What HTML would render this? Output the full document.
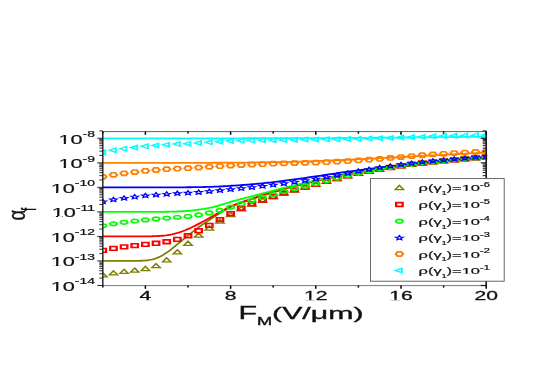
<!DOCTYPE html>
<html><head><meta charset="utf-8"><title>chart</title>
<style>html,body{margin:0;padding:0;background:#fff;}body{width:545px;height:382px;overflow:hidden;font-family:"Liberation Sans",sans-serif;}svg{filter:blur(0.45px);}</style>
</head><body>
<svg width="545" height="382" viewBox="0 0 545 382" style="display:block;font-family:'Liberation Sans',sans-serif">
<rect width="545" height="382" fill="#fff"/>
<defs><clipPath id="cp"><rect x="102.8" y="128.6" width="384.29999999999995" height="157.00000000000003"/></clipPath></defs>
<g clip-path="url(#cp)">
<polyline points="102.80,260.95 104.72,260.95 106.63,260.95 108.55,260.95 110.47,260.95 112.39,260.95 114.30,260.95 116.22,260.95 118.14,260.95 120.05,260.95 121.97,260.95 123.89,260.95 125.80,260.95 127.72,260.94 129.64,260.94 131.56,260.93 133.47,260.91 135.39,260.89 137.31,260.86 139.22,260.81 141.14,260.73 143.06,260.63 144.97,260.49 146.89,260.30 148.81,260.05 150.72,259.72 152.64,259.30 154.56,258.78 156.48,258.14 158.39,257.38 160.31,256.50 162.23,255.49 164.14,254.35 166.06,253.11 167.98,251.77 169.89,250.35 171.81,248.86 173.73,247.32 175.65,245.74 177.56,244.14 179.48,242.54 181.40,240.93 183.31,239.33 185.23,237.74 187.15,236.17 189.06,234.62 190.98,233.10 192.90,231.61 194.82,230.14 196.73,228.70 198.65,227.30 200.57,225.92 202.48,224.58 204.40,223.26 206.32,221.98 208.24,220.72 210.15,219.45 212.07,218.17 213.99,216.91 215.90,215.68 217.82,214.47 219.74,213.29 221.65,212.13 223.57,211.00 225.49,209.89 227.40,208.80 229.32,207.74 231.24,206.77 233.16,205.96 235.07,205.18 236.99,204.41 238.91,203.67 240.82,202.94 242.74,202.23 244.66,201.54 246.57,200.87 248.49,200.21 250.41,199.56 252.33,198.92 254.24,198.24 256.16,197.58 258.08,196.93 259.99,196.29 261.91,195.67 263.83,195.06 265.75,194.46 267.66,193.88 269.58,193.30 271.50,192.74 273.41,192.18 275.33,191.59 277.25,191.02 279.16,190.45 281.08,189.89 283.00,189.34 284.92,188.80 286.83,188.27 288.75,187.75 290.67,187.24 292.58,186.74 294.50,186.25 296.42,185.76 298.33,185.28 300.25,184.81 302.17,184.33 304.08,183.84 306.00,183.36 307.92,182.89 309.84,182.43 311.75,181.97 313.67,181.52 315.59,181.07 317.50,180.63 319.42,180.20 321.34,179.77 323.25,179.35 325.17,178.94 327.09,178.53 329.01,178.13 330.92,177.73 332.84,177.34 334.76,176.95 336.67,176.57 338.59,176.19 340.51,175.82 342.43,175.45 344.34,175.09 346.26,174.74 348.18,174.38 350.09,174.04 352.01,173.71 353.93,173.37 355.84,173.05 357.76,172.72 359.68,172.40 361.59,172.09 363.51,171.78 365.43,171.47 367.35,171.16 369.26,170.86 371.18,170.57 373.10,170.27 375.01,169.98 376.93,169.70 378.85,169.41 380.76,169.13 382.68,168.86 384.60,168.59 386.52,168.33 388.43,168.06 390.35,167.80 392.27,167.54 394.18,167.29 396.10,167.04 398.02,166.79 399.94,166.54 401.85,166.30 403.77,166.06 405.69,165.82 407.60,165.58 409.52,165.35 411.44,165.12 413.35,164.89 415.27,164.67 417.19,164.44 419.11,164.22 421.02,164.00 422.94,163.79 424.86,163.57 426.77,163.36 428.69,163.15 430.61,162.94 432.52,162.74 434.44,162.53 436.36,162.33 438.27,162.13 440.19,161.94 442.11,161.74 444.03,161.55 445.94,161.36 447.86,161.17 449.78,160.99 451.69,160.81 453.61,160.62 455.53,160.45 457.44,160.27 459.36,160.09 461.28,159.92 463.20,159.75 465.11,159.58 467.03,159.41 468.95,159.24 470.86,159.07 472.78,158.91 474.70,158.75 476.62,158.59 478.53,158.43 480.45,158.27 482.37,158.11 484.28,157.95 486.20,157.80" fill="none" stroke="#808000" stroke-width="1.8"/>
<polyline points="102.80,236.42 104.72,236.42 106.63,236.42 108.55,236.42 110.47,236.42 112.39,236.42 114.30,236.42 116.22,236.42 118.14,236.42 120.05,236.42 121.97,236.42 123.89,236.42 125.80,236.42 127.72,236.42 129.64,236.42 131.56,236.42 133.47,236.42 135.39,236.41 137.31,236.41 139.22,236.41 141.14,236.40 143.06,236.39 144.97,236.37 146.89,236.35 148.81,236.33 150.72,236.29 152.64,236.24 154.56,236.18 156.48,236.10 158.39,236.00 160.31,235.88 162.23,235.73 164.14,235.54 166.06,235.32 167.98,235.05 169.89,234.74 171.81,234.38 173.73,233.96 175.65,233.49 177.56,232.96 179.48,232.37 181.40,231.72 183.31,231.01 185.23,230.26 187.15,229.45 189.06,228.60 190.98,227.71 192.90,226.78 194.82,225.83 196.73,224.85 198.65,223.85 200.57,222.84 202.48,221.81 204.40,220.78 206.32,219.75 208.24,218.72 210.15,217.66 212.07,216.57 213.99,215.47 215.90,214.39 217.82,213.31 219.74,212.25 221.65,211.19 223.57,210.15 225.49,209.12 227.40,208.11 229.32,207.11 231.24,206.19 233.16,205.43 235.07,204.68 236.99,203.95 238.91,203.23 240.82,202.54 242.74,201.85 244.66,201.18 246.57,200.53 248.49,199.89 250.41,199.27 252.33,198.64 254.24,197.98 256.16,197.33 258.08,196.70 259.99,196.07 261.91,195.46 263.83,194.86 265.75,194.28 267.66,193.70 269.58,193.14 271.50,192.58 273.41,192.03 275.33,191.45 277.25,190.88 279.16,190.32 281.08,189.77 283.00,189.23 284.92,188.69 286.83,188.17 288.75,187.65 290.67,187.15 292.58,186.65 294.50,186.16 296.42,185.68 298.33,185.20 300.25,184.74 302.17,184.26 304.08,183.77 306.00,183.30 307.92,182.83 309.84,182.37 311.75,181.91 313.67,181.46 315.59,181.02 317.50,180.58 319.42,180.15 321.34,179.73 323.25,179.31 325.17,178.90 327.09,178.49 329.01,178.09 330.92,177.69 332.84,177.30 334.76,176.92 336.67,176.54 338.59,176.16 340.51,175.79 342.43,175.42 344.34,175.06 346.26,174.71 348.18,174.36 350.09,174.02 352.01,173.68 353.93,173.35 355.84,173.02 357.76,172.70 359.68,172.38 361.59,172.06 363.51,171.75 365.43,171.45 367.35,171.14 369.26,170.84 371.18,170.55 373.10,170.25 375.01,169.96 376.93,169.68 378.85,169.39 380.76,169.12 382.68,168.84 384.60,168.58 386.52,168.31 388.43,168.05 390.35,167.79 392.27,167.53 394.18,167.27 396.10,167.02 398.02,166.77 399.94,166.53 401.85,166.28 403.77,166.04 405.69,165.81 407.60,165.57 409.52,165.34 411.44,165.11 413.35,164.88 415.27,164.65 417.19,164.43 419.11,164.21 421.02,163.99 422.94,163.78 424.86,163.56 426.77,163.35 428.69,163.14 430.61,162.93 432.52,162.73 434.44,162.52 436.36,162.32 438.27,162.12 440.19,161.93 442.11,161.73 444.03,161.54 445.94,161.35 447.86,161.16 449.78,160.98 451.69,160.80 453.61,160.62 455.53,160.44 457.44,160.26 459.36,160.09 461.28,159.91 463.20,159.74 465.11,159.57 467.03,159.40 468.95,159.23 470.86,159.07 472.78,158.90 474.70,158.74 476.62,158.58 478.53,158.42 480.45,158.26 482.37,158.10 484.28,157.95 486.20,157.79" fill="none" stroke="#ff0000" stroke-width="1.8"/>
<polyline points="102.80,211.89 104.72,211.89 106.63,211.89 108.55,211.89 110.47,211.89 112.39,211.89 114.30,211.89 116.22,211.89 118.14,211.89 120.05,211.89 121.97,211.89 123.89,211.89 125.80,211.89 127.72,211.89 129.64,211.89 131.56,211.89 133.47,211.89 135.39,211.89 137.31,211.89 139.22,211.89 141.14,211.89 143.06,211.89 144.97,211.89 146.89,211.88 148.81,211.88 150.72,211.88 152.64,211.87 154.56,211.87 156.48,211.86 158.39,211.85 160.31,211.83 162.23,211.82 164.14,211.80 166.06,211.77 167.98,211.75 169.89,211.71 171.81,211.67 173.73,211.62 175.65,211.56 177.56,211.49 179.48,211.41 181.40,211.31 183.31,211.21 185.23,211.09 187.15,210.95 189.06,210.79 190.98,210.62 192.90,210.43 194.82,210.21 196.73,209.98 198.65,209.72 200.57,209.45 202.48,209.14 204.40,208.82 206.32,208.47 208.24,208.11 210.15,207.70 212.07,207.26 213.99,206.79 215.90,206.29 217.82,205.78 219.74,205.24 221.65,204.68 223.57,204.10 225.49,203.51 227.40,202.90 229.32,202.27 231.24,201.68 233.16,201.17 235.07,200.67 236.99,200.16 238.91,199.65 240.82,199.15 242.74,198.65 244.66,198.15 246.57,197.66 248.49,197.16 250.41,196.68 252.33,196.18 254.24,195.66 256.16,195.13 258.08,194.61 259.99,194.10 261.91,193.59 263.83,193.08 265.75,192.58 267.66,192.09 269.58,191.60 271.50,191.12 273.41,190.64 275.33,190.13 277.25,189.62 279.16,189.12 281.08,188.63 283.00,188.14 284.92,187.66 286.83,187.18 288.75,186.71 290.67,186.25 292.58,185.79 294.50,185.34 296.42,184.89 298.33,184.45 300.25,184.01 302.17,183.56 304.08,183.11 306.00,182.66 307.92,182.22 309.84,181.78 311.75,181.35 313.67,180.92 315.59,180.50 317.50,180.09 319.42,179.68 321.34,179.27 323.25,178.87 325.17,178.47 327.09,178.08 329.01,177.69 330.92,177.31 332.84,176.94 334.76,176.56 336.67,176.19 338.59,175.83 340.51,175.47 342.43,175.12 344.34,174.76 346.26,174.42 348.18,174.08 350.09,173.75 352.01,173.42 353.93,173.09 355.84,172.78 357.76,172.46 359.68,172.15 361.59,171.84 363.51,171.53 365.43,171.23 367.35,170.94 369.26,170.64 371.18,170.35 373.10,170.06 375.01,169.78 376.93,169.50 378.85,169.22 380.76,168.95 382.68,168.68 384.60,168.41 386.52,168.15 388.43,167.89 390.35,167.63 392.27,167.38 394.18,167.13 396.10,166.88 398.02,166.64 399.94,166.39 401.85,166.15 403.77,165.92 405.69,165.68 407.60,165.45 409.52,165.22 411.44,164.99 413.35,164.76 415.27,164.54 417.19,164.32 419.11,164.10 421.02,163.89 422.94,163.67 424.86,163.46 426.77,163.25 428.69,163.04 430.61,162.84 432.52,162.63 434.44,162.43 436.36,162.23 438.27,162.03 440.19,161.84 442.11,161.64 444.03,161.45 445.94,161.27 447.86,161.08 449.78,160.90 451.69,160.72 453.61,160.54 455.53,160.36 457.44,160.19 459.36,160.01 461.28,159.84 463.20,159.67 465.11,159.50 467.03,159.33 468.95,159.16 470.86,159.00 472.78,158.84 474.70,158.68 476.62,158.51 478.53,158.36 480.45,158.20 482.37,158.04 484.28,157.89 486.20,157.74" fill="none" stroke="#00ff00" stroke-width="1.8"/>
<polyline points="102.80,187.36 104.72,187.36 106.63,187.36 108.55,187.36 110.47,187.36 112.39,187.36 114.30,187.36 116.22,187.36 118.14,187.36 120.05,187.36 121.97,187.36 123.89,187.36 125.80,187.36 127.72,187.36 129.64,187.36 131.56,187.36 133.47,187.36 135.39,187.36 137.31,187.36 139.22,187.36 141.14,187.36 143.06,187.36 144.97,187.36 146.89,187.36 148.81,187.36 150.72,187.36 152.64,187.36 154.56,187.36 156.48,187.36 158.39,187.36 160.31,187.35 162.23,187.35 164.14,187.35 166.06,187.35 167.98,187.35 169.89,187.34 171.81,187.34 173.73,187.33 175.65,187.33 177.56,187.32 179.48,187.31 181.40,187.30 183.31,187.29 185.23,187.28 187.15,187.26 189.06,187.25 190.98,187.23 192.90,187.20 194.82,187.18 196.73,187.15 198.65,187.12 200.57,187.09 202.48,187.05 204.40,187.01 206.32,186.96 208.24,186.91 210.15,186.86 212.07,186.79 213.99,186.72 215.90,186.65 217.82,186.56 219.74,186.47 221.65,186.38 223.57,186.27 225.49,186.16 227.40,186.03 229.32,185.90 231.24,185.77 233.16,185.66 235.07,185.54 236.99,185.41 238.91,185.28 240.82,185.15 242.74,185.01 244.66,184.87 246.57,184.73 248.49,184.58 250.41,184.43 252.33,184.27 254.24,184.09 256.16,183.91 258.08,183.73 259.99,183.54 261.91,183.35 263.83,183.15 265.75,182.95 267.66,182.75 269.58,182.54 271.50,182.34 273.41,182.12 275.33,181.89 277.25,181.65 279.16,181.41 281.08,181.17 283.00,180.93 284.92,180.68 286.83,180.43 288.75,180.18 290.67,179.92 292.58,179.67 294.50,179.41 296.42,179.15 298.33,178.89 300.25,178.63 302.17,178.36 304.08,178.08 306.00,177.80 307.92,177.51 309.84,177.23 311.75,176.95 313.67,176.66 315.59,176.38 317.50,176.09 319.42,175.81 321.34,175.53 323.25,175.24 325.17,174.96 327.09,174.68 329.01,174.39 330.92,174.11 332.84,173.83 334.76,173.55 336.67,173.27 338.59,172.99 340.51,172.72 342.43,172.44 344.34,172.17 346.26,171.90 348.18,171.63 350.09,171.36 352.01,171.10 353.93,170.84 355.84,170.58 357.76,170.32 359.68,170.07 361.59,169.81 363.51,169.56 365.43,169.31 367.35,169.06 369.26,168.81 371.18,168.57 373.10,168.32 375.01,168.08 376.93,167.84 378.85,167.60 380.76,167.37 382.68,167.13 384.60,166.90 386.52,166.68 388.43,166.45 390.35,166.23 392.27,166.00 394.18,165.78 396.10,165.56 398.02,165.35 399.94,165.13 401.85,164.92 403.77,164.71 405.69,164.50 407.60,164.29 409.52,164.08 411.44,163.88 413.35,163.67 415.27,163.47 417.19,163.27 419.11,163.07 421.02,162.88 422.94,162.68 424.86,162.49 426.77,162.30 428.69,162.11 430.61,161.92 432.52,161.73 434.44,161.55 436.36,161.36 438.27,161.18 440.19,161.00 442.11,160.82 444.03,160.64 445.94,160.47 447.86,160.30 449.78,160.13 451.69,159.96 453.61,159.79 455.53,159.63 457.44,159.46 459.36,159.30 461.28,159.14 463.20,158.98 465.11,158.82 467.03,158.66 468.95,158.51 470.86,158.35 472.78,158.20 474.70,158.04 476.62,157.89 478.53,157.74 480.45,157.60 482.37,157.45 484.28,157.30 486.20,157.16" fill="none" stroke="#0000ff" stroke-width="1.8"/>
<polyline points="102.80,162.83 104.72,162.83 106.63,162.83 108.55,162.83 110.47,162.83 112.39,162.83 114.30,162.83 116.22,162.83 118.14,162.83 120.05,162.83 121.97,162.83 123.89,162.83 125.80,162.83 127.72,162.83 129.64,162.83 131.56,162.83 133.47,162.83 135.39,162.83 137.31,162.83 139.22,162.83 141.14,162.83 143.06,162.83 144.97,162.83 146.89,162.83 148.81,162.83 150.72,162.83 152.64,162.83 154.56,162.83 156.48,162.83 158.39,162.83 160.31,162.83 162.23,162.83 164.14,162.83 166.06,162.83 167.98,162.83 169.89,162.83 171.81,162.83 173.73,162.83 175.65,162.83 177.56,162.83 179.48,162.83 181.40,162.82 183.31,162.82 185.23,162.82 187.15,162.82 189.06,162.82 190.98,162.82 192.90,162.81 194.82,162.81 196.73,162.81 198.65,162.81 200.57,162.80 202.48,162.80 204.40,162.79 206.32,162.79 208.24,162.78 210.15,162.78 212.07,162.77 213.99,162.76 215.90,162.76 217.82,162.75 219.74,162.74 221.65,162.73 223.57,162.72 225.49,162.70 227.40,162.69 229.32,162.67 231.24,162.66 233.16,162.65 235.07,162.63 236.99,162.62 238.91,162.60 240.82,162.59 242.74,162.57 244.66,162.55 246.57,162.54 248.49,162.52 250.41,162.50 252.33,162.48 254.24,162.45 256.16,162.43 258.08,162.41 259.99,162.38 261.91,162.35 263.83,162.33 265.75,162.30 267.66,162.27 269.58,162.24 271.50,162.21 273.41,162.17 275.33,162.14 277.25,162.10 279.16,162.06 281.08,162.02 283.00,161.98 284.92,161.94 286.83,161.90 288.75,161.85 290.67,161.80 292.58,161.76 294.50,161.71 296.42,161.66 298.33,161.61 300.25,161.56 302.17,161.50 304.08,161.44 306.00,161.38 307.92,161.32 309.84,161.26 311.75,161.20 313.67,161.13 315.59,161.06 317.50,161.00 319.42,160.93 321.34,160.85 323.25,160.78 325.17,160.71 327.09,160.63 329.01,160.56 330.92,160.48 332.84,160.40 334.76,160.32 336.67,160.24 338.59,160.16 340.51,160.07 342.43,159.99 344.34,159.90 346.26,159.82 348.18,159.73 350.09,159.64 352.01,159.55 353.93,159.46 355.84,159.37 357.76,159.28 359.68,159.19 361.59,159.10 363.51,159.01 365.43,158.91 367.35,158.82 369.26,158.72 371.18,158.63 373.10,158.53 375.01,158.43 376.93,158.34 378.85,158.24 380.76,158.14 382.68,158.04 384.60,157.94 386.52,157.84 388.43,157.74 390.35,157.64 392.27,157.54 394.18,157.44 396.10,157.34 398.02,157.24 399.94,157.14 401.85,157.04 403.77,156.94 405.69,156.84 407.60,156.73 409.52,156.63 411.44,156.53 413.35,156.43 415.27,156.32 417.19,156.22 419.11,156.12 421.02,156.02 422.94,155.91 424.86,155.81 426.77,155.71 428.69,155.61 430.61,155.50 432.52,155.40 434.44,155.30 436.36,155.19 438.27,155.09 440.19,154.99 442.11,154.89 444.03,154.79 445.94,154.69 447.86,154.59 449.78,154.49 451.69,154.39 453.61,154.29 455.53,154.19 457.44,154.09 459.36,153.99 461.28,153.89 463.20,153.79 465.11,153.70 467.03,153.60 468.95,153.50 470.86,153.40 472.78,153.31 474.70,153.21 476.62,153.11 478.53,153.02 480.45,152.92 482.37,152.83 484.28,152.73 486.20,152.64" fill="none" stroke="#ff8000" stroke-width="1.8"/>
<polyline points="102.80,138.30 104.72,138.30 106.63,138.30 108.55,138.30 110.47,138.30 112.39,138.30 114.30,138.30 116.22,138.30 118.14,138.30 120.05,138.30 121.97,138.30 123.89,138.30 125.80,138.30 127.72,138.30 129.64,138.30 131.56,138.30 133.47,138.30 135.39,138.30 137.31,138.30 139.22,138.30 141.14,138.30 143.06,138.30 144.97,138.30 146.89,138.30 148.81,138.30 150.72,138.30 152.64,138.30 154.56,138.30 156.48,138.30 158.39,138.30 160.31,138.30 162.23,138.30 164.14,138.30 166.06,138.30 167.98,138.30 169.89,138.30 171.81,138.30 173.73,138.30 175.65,138.30 177.56,138.30 179.48,138.30 181.40,138.30 183.31,138.30 185.23,138.30 187.15,138.30 189.06,138.30 190.98,138.30 192.90,138.30 194.82,138.30 196.73,138.30 198.65,138.30 200.57,138.30 202.48,138.30 204.40,138.30 206.32,138.30 208.24,138.30 210.15,138.29 212.07,138.29 213.99,138.29 215.90,138.29 217.82,138.29 219.74,138.29 221.65,138.29 223.57,138.29 225.49,138.29 227.40,138.29 229.32,138.28 231.24,138.28 233.16,138.28 235.07,138.28 236.99,138.28 238.91,138.28 240.82,138.28 242.74,138.27 244.66,138.27 246.57,138.27 248.49,138.27 250.41,138.27 252.33,138.26 254.24,138.26 256.16,138.26 258.08,138.26 259.99,138.25 261.91,138.25 263.83,138.25 265.75,138.25 267.66,138.24 269.58,138.24 271.50,138.24 273.41,138.23 275.33,138.23 277.25,138.22 279.16,138.22 281.08,138.22 283.00,138.21 284.92,138.21 286.83,138.20 288.75,138.20 290.67,138.19 292.58,138.19 294.50,138.18 296.42,138.18 298.33,138.17 300.25,138.17 302.17,138.16 304.08,138.15 306.00,138.15 307.92,138.14 309.84,138.13 311.75,138.12 313.67,138.12 315.59,138.11 317.50,138.10 319.42,138.09 321.34,138.09 323.25,138.08 325.17,138.07 327.09,138.06 329.01,138.05 330.92,138.04 332.84,138.03 334.76,138.02 336.67,138.01 338.59,138.00 340.51,137.99 342.43,137.98 344.34,137.97 346.26,137.96 348.18,137.95 350.09,137.93 352.01,137.92 353.93,137.91 355.84,137.90 357.76,137.89 359.68,137.87 361.59,137.86 363.51,137.85 365.43,137.84 367.35,137.82 369.26,137.81 371.18,137.80 373.10,137.78 375.01,137.77 376.93,137.76 378.85,137.74 380.76,137.73 382.68,137.71 384.60,137.70 386.52,137.68 388.43,137.67 390.35,137.65 392.27,137.64 394.18,137.62 396.10,137.61 398.02,137.59 399.94,137.57 401.85,137.56 403.77,137.54 405.69,137.52 407.60,137.51 409.52,137.49 411.44,137.47 413.35,137.46 415.27,137.44 417.19,137.42 419.11,137.40 421.02,137.39 422.94,137.37 424.86,137.35 426.77,137.33 428.69,137.31 430.61,137.29 432.52,137.28 434.44,137.26 436.36,137.24 438.27,137.22 440.19,137.20 442.11,137.18 444.03,137.16 445.94,137.14 447.86,137.12 449.78,137.10 451.69,137.08 453.61,137.06 455.53,137.04 457.44,137.02 459.36,137.00 461.28,136.98 463.20,136.96 465.11,136.94 467.03,136.92 468.95,136.90 470.86,136.88 472.78,136.86 474.70,136.84 476.62,136.82 478.53,136.80 480.45,136.78 482.37,136.76 484.28,136.74 486.20,136.72" fill="none" stroke="#00ffff" stroke-width="1.8"/>
<g transform="translate(102.80,274.90) scale(1.4,1)"><polygon points="-2.95,2.04 2.95,2.04 0.00,-2.06" fill="none" stroke="#808000" stroke-width="1.25" stroke-linejoin="miter"/></g>
<g transform="translate(113.45,272.92) scale(1.4,1)"><polygon points="-2.95,2.04 2.95,2.04 0.00,-2.06" fill="none" stroke="#808000" stroke-width="1.25" stroke-linejoin="miter"/></g>
<g transform="translate(124.10,271.40) scale(1.4,1)"><polygon points="-2.95,2.04 2.95,2.04 0.00,-2.06" fill="none" stroke="#808000" stroke-width="1.25" stroke-linejoin="miter"/></g>
<g transform="translate(134.75,270.13) scale(1.4,1)"><polygon points="-2.95,2.04 2.95,2.04 0.00,-2.06" fill="none" stroke="#808000" stroke-width="1.25" stroke-linejoin="miter"/></g>
<g transform="translate(145.40,268.50) scale(1.4,1)"><polygon points="-2.95,2.04 2.95,2.04 0.00,-2.06" fill="none" stroke="#808000" stroke-width="1.25" stroke-linejoin="miter"/></g>
<g transform="translate(156.05,265.65) scale(1.4,1)"><polygon points="-2.95,2.04 2.95,2.04 0.00,-2.06" fill="none" stroke="#808000" stroke-width="1.25" stroke-linejoin="miter"/></g>
<g transform="translate(166.70,259.91) scale(1.4,1)"><polygon points="-2.95,2.04 2.95,2.04 0.00,-2.06" fill="none" stroke="#808000" stroke-width="1.25" stroke-linejoin="miter"/></g>
<g transform="translate(177.35,251.86) scale(1.4,1)"><polygon points="-2.95,2.04 2.95,2.04 0.00,-2.06" fill="none" stroke="#808000" stroke-width="1.25" stroke-linejoin="miter"/></g>
<g transform="translate(188.00,243.25) scale(1.4,1)"><polygon points="-2.95,2.04 2.95,2.04 0.00,-2.06" fill="none" stroke="#808000" stroke-width="1.25" stroke-linejoin="miter"/></g>
<g transform="translate(198.65,235.18) scale(1.4,1)"><polygon points="-2.95,2.04 2.95,2.04 0.00,-2.06" fill="none" stroke="#808000" stroke-width="1.25" stroke-linejoin="miter"/></g>
<g transform="translate(209.30,227.97) scale(1.4,1)"><polygon points="-2.95,2.04 2.95,2.04 0.00,-2.06" fill="none" stroke="#808000" stroke-width="1.25" stroke-linejoin="miter"/></g>
<g transform="translate(219.95,221.18) scale(1.4,1)"><polygon points="-2.95,2.04 2.95,2.04 0.00,-2.06" fill="none" stroke="#808000" stroke-width="1.25" stroke-linejoin="miter"/></g>
<g transform="translate(230.60,214.55) scale(1.4,1)"><polygon points="-2.95,2.04 2.95,2.04 0.00,-2.06" fill="none" stroke="#808000" stroke-width="1.25" stroke-linejoin="miter"/></g>
<g transform="translate(241.25,208.81) scale(1.4,1)"><polygon points="-2.95,2.04 2.95,2.04 0.00,-2.06" fill="none" stroke="#808000" stroke-width="1.25" stroke-linejoin="miter"/></g>
<g transform="translate(251.90,204.19) scale(1.4,1)"><polygon points="-2.95,2.04 2.95,2.04 0.00,-2.06" fill="none" stroke="#808000" stroke-width="1.25" stroke-linejoin="miter"/></g>
<g transform="translate(262.55,200.22) scale(1.4,1)"><polygon points="-2.95,2.04 2.95,2.04 0.00,-2.06" fill="none" stroke="#808000" stroke-width="1.25" stroke-linejoin="miter"/></g>
<g transform="translate(273.20,196.64) scale(1.4,1)"><polygon points="-2.95,2.04 2.95,2.04 0.00,-2.06" fill="none" stroke="#808000" stroke-width="1.25" stroke-linejoin="miter"/></g>
<g transform="translate(283.85,193.17) scale(1.4,1)"><polygon points="-2.95,2.04 2.95,2.04 0.00,-2.06" fill="none" stroke="#808000" stroke-width="1.25" stroke-linejoin="miter"/></g>
<g transform="translate(294.50,190.01) scale(1.4,1)"><polygon points="-2.95,2.04 2.95,2.04 0.00,-2.06" fill="none" stroke="#808000" stroke-width="1.25" stroke-linejoin="miter"/></g>
<g transform="translate(305.15,187.10) scale(1.4,1)"><polygon points="-2.95,2.04 2.95,2.04 0.00,-2.06" fill="none" stroke="#808000" stroke-width="1.25" stroke-linejoin="miter"/></g>
<g transform="translate(315.80,184.42) scale(1.4,1)"><polygon points="-2.95,2.04 2.95,2.04 0.00,-2.06" fill="none" stroke="#808000" stroke-width="1.25" stroke-linejoin="miter"/></g>
<g transform="translate(326.45,181.35) scale(1.4,1)"><polygon points="-2.95,2.04 2.95,2.04 0.00,-2.06" fill="none" stroke="#808000" stroke-width="1.25" stroke-linejoin="miter"/></g>
<g transform="translate(337.10,178.51) scale(1.4,1)"><polygon points="-2.95,2.04 2.95,2.04 0.00,-2.06" fill="none" stroke="#808000" stroke-width="1.25" stroke-linejoin="miter"/></g>
<g transform="translate(347.75,175.87) scale(1.4,1)"><polygon points="-2.95,2.04 2.95,2.04 0.00,-2.06" fill="none" stroke="#808000" stroke-width="1.25" stroke-linejoin="miter"/></g>
<g transform="translate(358.40,173.41) scale(1.4,1)"><polygon points="-2.95,2.04 2.95,2.04 0.00,-2.06" fill="none" stroke="#808000" stroke-width="1.25" stroke-linejoin="miter"/></g>
<g transform="translate(369.05,171.24) scale(1.4,1)"><polygon points="-2.95,2.04 2.95,2.04 0.00,-2.06" fill="none" stroke="#808000" stroke-width="1.25" stroke-linejoin="miter"/></g>
<g transform="translate(379.70,169.19) scale(1.4,1)"><polygon points="-2.95,2.04 2.95,2.04 0.00,-2.06" fill="none" stroke="#808000" stroke-width="1.25" stroke-linejoin="miter"/></g>
<g transform="translate(390.35,167.44) scale(1.4,1)"><polygon points="-2.95,2.04 2.95,2.04 0.00,-2.06" fill="none" stroke="#808000" stroke-width="1.25" stroke-linejoin="miter"/></g>
<g transform="translate(401.00,165.79) scale(1.4,1)"><polygon points="-2.95,2.04 2.95,2.04 0.00,-2.06" fill="none" stroke="#808000" stroke-width="1.25" stroke-linejoin="miter"/></g>
<g transform="translate(411.65,164.34) scale(1.4,1)"><polygon points="-2.95,2.04 2.95,2.04 0.00,-2.06" fill="none" stroke="#808000" stroke-width="1.25" stroke-linejoin="miter"/></g>
<g transform="translate(422.30,162.96) scale(1.4,1)"><polygon points="-2.95,2.04 2.95,2.04 0.00,-2.06" fill="none" stroke="#808000" stroke-width="1.25" stroke-linejoin="miter"/></g>
<g transform="translate(432.95,161.81) scale(1.4,1)"><polygon points="-2.95,2.04 2.95,2.04 0.00,-2.06" fill="none" stroke="#808000" stroke-width="1.25" stroke-linejoin="miter"/></g>
<g transform="translate(443.60,160.73) scale(1.4,1)"><polygon points="-2.95,2.04 2.95,2.04 0.00,-2.06" fill="none" stroke="#808000" stroke-width="1.25" stroke-linejoin="miter"/></g>
<g transform="translate(454.25,159.71) scale(1.4,1)"><polygon points="-2.95,2.04 2.95,2.04 0.00,-2.06" fill="none" stroke="#808000" stroke-width="1.25" stroke-linejoin="miter"/></g>
<g transform="translate(464.90,158.74) scale(1.4,1)"><polygon points="-2.95,2.04 2.95,2.04 0.00,-2.06" fill="none" stroke="#808000" stroke-width="1.25" stroke-linejoin="miter"/></g>
<g transform="translate(475.55,157.82) scale(1.4,1)"><polygon points="-2.95,2.04 2.95,2.04 0.00,-2.06" fill="none" stroke="#808000" stroke-width="1.25" stroke-linejoin="miter"/></g>
<g transform="translate(486.20,156.94) scale(1.4,1)"><polygon points="-2.95,2.04 2.95,2.04 0.00,-2.06" fill="none" stroke="#808000" stroke-width="1.25" stroke-linejoin="miter"/></g>
<g transform="translate(102.80,250.37) scale(1.4,1)"><polygon points="-2.32,-1.88 2.32,-1.88 2.32,1.88 -2.32,1.88" fill="none" stroke="#ff0000" stroke-width="1.65" stroke-linejoin="miter"/></g>
<g transform="translate(113.45,248.39) scale(1.4,1)"><polygon points="-2.32,-1.88 2.32,-1.88 2.32,1.88 -2.32,1.88" fill="none" stroke="#ff0000" stroke-width="1.65" stroke-linejoin="miter"/></g>
<g transform="translate(124.10,246.87) scale(1.4,1)"><polygon points="-2.32,-1.88 2.32,-1.88 2.32,1.88 -2.32,1.88" fill="none" stroke="#ff0000" stroke-width="1.65" stroke-linejoin="miter"/></g>
<g transform="translate(134.75,245.66) scale(1.4,1)"><polygon points="-2.32,-1.88 2.32,-1.88 2.32,1.88 -2.32,1.88" fill="none" stroke="#ff0000" stroke-width="1.65" stroke-linejoin="miter"/></g>
<g transform="translate(145.40,244.41) scale(1.4,1)"><polygon points="-2.32,-1.88 2.32,-1.88 2.32,1.88 -2.32,1.88" fill="none" stroke="#ff0000" stroke-width="1.65" stroke-linejoin="miter"/></g>
<g transform="translate(156.05,243.32) scale(1.4,1)"><polygon points="-2.32,-1.88 2.32,-1.88 2.32,1.88 -2.32,1.88" fill="none" stroke="#ff0000" stroke-width="1.65" stroke-linejoin="miter"/></g>
<g transform="translate(166.70,241.77) scale(1.4,1)"><polygon points="-2.32,-1.88 2.32,-1.88 2.32,1.88 -2.32,1.88" fill="none" stroke="#ff0000" stroke-width="1.65" stroke-linejoin="miter"/></g>
<g transform="translate(177.35,239.39) scale(1.4,1)"><polygon points="-2.32,-1.88 2.32,-1.88 2.32,1.88 -2.32,1.88" fill="none" stroke="#ff0000" stroke-width="1.65" stroke-linejoin="miter"/></g>
<g transform="translate(188.00,235.69) scale(1.4,1)"><polygon points="-2.32,-1.88 2.32,-1.88 2.32,1.88 -2.32,1.88" fill="none" stroke="#ff0000" stroke-width="1.65" stroke-linejoin="miter"/></g>
<g transform="translate(198.65,230.77) scale(1.4,1)"><polygon points="-2.32,-1.88 2.32,-1.88 2.32,1.88 -2.32,1.88" fill="none" stroke="#ff0000" stroke-width="1.65" stroke-linejoin="miter"/></g>
<g transform="translate(209.30,225.34) scale(1.4,1)"><polygon points="-2.32,-1.88 2.32,-1.88 2.32,1.88 -2.32,1.88" fill="none" stroke="#ff0000" stroke-width="1.65" stroke-linejoin="miter"/></g>
<g transform="translate(219.95,219.63) scale(1.4,1)"><polygon points="-2.32,-1.88 2.32,-1.88 2.32,1.88 -2.32,1.88" fill="none" stroke="#ff0000" stroke-width="1.65" stroke-linejoin="miter"/></g>
<g transform="translate(230.60,213.64) scale(1.4,1)"><polygon points="-2.32,-1.88 2.32,-1.88 2.32,1.88 -2.32,1.88" fill="none" stroke="#ff0000" stroke-width="1.65" stroke-linejoin="miter"/></g>
<g transform="translate(241.25,208.25) scale(1.4,1)"><polygon points="-2.32,-1.88 2.32,-1.88 2.32,1.88 -2.32,1.88" fill="none" stroke="#ff0000" stroke-width="1.65" stroke-linejoin="miter"/></g>
<g transform="translate(251.90,203.81) scale(1.4,1)"><polygon points="-2.32,-1.88 2.32,-1.88 2.32,1.88 -2.32,1.88" fill="none" stroke="#ff0000" stroke-width="1.65" stroke-linejoin="miter"/></g>
<g transform="translate(262.55,199.95) scale(1.4,1)"><polygon points="-2.32,-1.88 2.32,-1.88 2.32,1.88 -2.32,1.88" fill="none" stroke="#ff0000" stroke-width="1.65" stroke-linejoin="miter"/></g>
<g transform="translate(273.20,196.44) scale(1.4,1)"><polygon points="-2.32,-1.88 2.32,-1.88 2.32,1.88 -2.32,1.88" fill="none" stroke="#ff0000" stroke-width="1.65" stroke-linejoin="miter"/></g>
<g transform="translate(283.85,193.03) scale(1.4,1)"><polygon points="-2.32,-1.88 2.32,-1.88 2.32,1.88 -2.32,1.88" fill="none" stroke="#ff0000" stroke-width="1.65" stroke-linejoin="miter"/></g>
<g transform="translate(294.50,189.89) scale(1.4,1)"><polygon points="-2.32,-1.88 2.32,-1.88 2.32,1.88 -2.32,1.88" fill="none" stroke="#ff0000" stroke-width="1.65" stroke-linejoin="miter"/></g>
<g transform="translate(305.15,187.01) scale(1.4,1)"><polygon points="-2.32,-1.88 2.32,-1.88 2.32,1.88 -2.32,1.88" fill="none" stroke="#ff0000" stroke-width="1.65" stroke-linejoin="miter"/></g>
<g transform="translate(315.80,184.35) scale(1.4,1)"><polygon points="-2.32,-1.88 2.32,-1.88 2.32,1.88 -2.32,1.88" fill="none" stroke="#ff0000" stroke-width="1.65" stroke-linejoin="miter"/></g>
<g transform="translate(326.45,181.30) scale(1.4,1)"><polygon points="-2.32,-1.88 2.32,-1.88 2.32,1.88 -2.32,1.88" fill="none" stroke="#ff0000" stroke-width="1.65" stroke-linejoin="miter"/></g>
<g transform="translate(337.10,178.47) scale(1.4,1)"><polygon points="-2.32,-1.88 2.32,-1.88 2.32,1.88 -2.32,1.88" fill="none" stroke="#ff0000" stroke-width="1.65" stroke-linejoin="miter"/></g>
<g transform="translate(347.75,175.84) scale(1.4,1)"><polygon points="-2.32,-1.88 2.32,-1.88 2.32,1.88 -2.32,1.88" fill="none" stroke="#ff0000" stroke-width="1.65" stroke-linejoin="miter"/></g>
<g transform="translate(358.40,173.38) scale(1.4,1)"><polygon points="-2.32,-1.88 2.32,-1.88 2.32,1.88 -2.32,1.88" fill="none" stroke="#ff0000" stroke-width="1.65" stroke-linejoin="miter"/></g>
<g transform="translate(369.05,171.21) scale(1.4,1)"><polygon points="-2.32,-1.88 2.32,-1.88 2.32,1.88 -2.32,1.88" fill="none" stroke="#ff0000" stroke-width="1.65" stroke-linejoin="miter"/></g>
<g transform="translate(379.70,169.18) scale(1.4,1)"><polygon points="-2.32,-1.88 2.32,-1.88 2.32,1.88 -2.32,1.88" fill="none" stroke="#ff0000" stroke-width="1.65" stroke-linejoin="miter"/></g>
<g transform="translate(390.35,167.43) scale(1.4,1)"><polygon points="-2.32,-1.88 2.32,-1.88 2.32,1.88 -2.32,1.88" fill="none" stroke="#ff0000" stroke-width="1.65" stroke-linejoin="miter"/></g>
<g transform="translate(401.00,165.78) scale(1.4,1)"><polygon points="-2.32,-1.88 2.32,-1.88 2.32,1.88 -2.32,1.88" fill="none" stroke="#ff0000" stroke-width="1.65" stroke-linejoin="miter"/></g>
<g transform="translate(411.65,164.32) scale(1.4,1)"><polygon points="-2.32,-1.88 2.32,-1.88 2.32,1.88 -2.32,1.88" fill="none" stroke="#ff0000" stroke-width="1.65" stroke-linejoin="miter"/></g>
<g transform="translate(422.30,162.95) scale(1.4,1)"><polygon points="-2.32,-1.88 2.32,-1.88 2.32,1.88 -2.32,1.88" fill="none" stroke="#ff0000" stroke-width="1.65" stroke-linejoin="miter"/></g>
<g transform="translate(432.95,161.80) scale(1.4,1)"><polygon points="-2.32,-1.88 2.32,-1.88 2.32,1.88 -2.32,1.88" fill="none" stroke="#ff0000" stroke-width="1.65" stroke-linejoin="miter"/></g>
<g transform="translate(443.60,160.72) scale(1.4,1)"><polygon points="-2.32,-1.88 2.32,-1.88 2.32,1.88 -2.32,1.88" fill="none" stroke="#ff0000" stroke-width="1.65" stroke-linejoin="miter"/></g>
<g transform="translate(454.25,159.70) scale(1.4,1)"><polygon points="-2.32,-1.88 2.32,-1.88 2.32,1.88 -2.32,1.88" fill="none" stroke="#ff0000" stroke-width="1.65" stroke-linejoin="miter"/></g>
<g transform="translate(464.90,158.73) scale(1.4,1)"><polygon points="-2.32,-1.88 2.32,-1.88 2.32,1.88 -2.32,1.88" fill="none" stroke="#ff0000" stroke-width="1.65" stroke-linejoin="miter"/></g>
<g transform="translate(475.55,157.81) scale(1.4,1)"><polygon points="-2.32,-1.88 2.32,-1.88 2.32,1.88 -2.32,1.88" fill="none" stroke="#ff0000" stroke-width="1.65" stroke-linejoin="miter"/></g>
<g transform="translate(486.20,156.94) scale(1.4,1)"><polygon points="-2.32,-1.88 2.32,-1.88 2.32,1.88 -2.32,1.88" fill="none" stroke="#ff0000" stroke-width="1.65" stroke-linejoin="miter"/></g>
<g transform="translate(102.80,225.84) scale(1.4,1)"><ellipse cx="0" cy="0" rx="2.50" ry="1.88" fill="none" stroke="#00ff00" stroke-width="1.6"/></g>
<g transform="translate(113.45,223.86) scale(1.4,1)"><ellipse cx="0" cy="0" rx="2.50" ry="1.88" fill="none" stroke="#00ff00" stroke-width="1.6"/></g>
<g transform="translate(124.10,222.34) scale(1.4,1)"><ellipse cx="0" cy="0" rx="2.50" ry="1.88" fill="none" stroke="#00ff00" stroke-width="1.6"/></g>
<g transform="translate(134.75,221.13) scale(1.4,1)"><ellipse cx="0" cy="0" rx="2.50" ry="1.88" fill="none" stroke="#00ff00" stroke-width="1.6"/></g>
<g transform="translate(145.40,219.93) scale(1.4,1)"><ellipse cx="0" cy="0" rx="2.50" ry="1.88" fill="none" stroke="#00ff00" stroke-width="1.6"/></g>
<g transform="translate(156.05,219.04) scale(1.4,1)"><ellipse cx="0" cy="0" rx="2.50" ry="1.88" fill="none" stroke="#00ff00" stroke-width="1.6"/></g>
<g transform="translate(166.70,218.15) scale(1.4,1)"><ellipse cx="0" cy="0" rx="2.50" ry="1.88" fill="none" stroke="#00ff00" stroke-width="1.6"/></g>
<g transform="translate(177.35,217.37) scale(1.4,1)"><ellipse cx="0" cy="0" rx="2.50" ry="1.88" fill="none" stroke="#00ff00" stroke-width="1.6"/></g>
<g transform="translate(188.00,216.45) scale(1.4,1)"><ellipse cx="0" cy="0" rx="2.50" ry="1.88" fill="none" stroke="#00ff00" stroke-width="1.6"/></g>
<g transform="translate(198.65,215.01) scale(1.4,1)"><ellipse cx="0" cy="0" rx="2.50" ry="1.88" fill="none" stroke="#00ff00" stroke-width="1.6"/></g>
<g transform="translate(209.30,213.00) scale(1.4,1)"><ellipse cx="0" cy="0" rx="2.50" ry="1.88" fill="none" stroke="#00ff00" stroke-width="1.6"/></g>
<g transform="translate(219.95,210.50) scale(1.4,1)"><ellipse cx="0" cy="0" rx="2.50" ry="1.88" fill="none" stroke="#00ff00" stroke-width="1.6"/></g>
<g transform="translate(230.60,207.28) scale(1.4,1)"><ellipse cx="0" cy="0" rx="2.50" ry="1.88" fill="none" stroke="#00ff00" stroke-width="1.6"/></g>
<g transform="translate(241.25,203.85) scale(1.4,1)"><ellipse cx="0" cy="0" rx="2.50" ry="1.88" fill="none" stroke="#00ff00" stroke-width="1.6"/></g>
<g transform="translate(251.90,200.62) scale(1.4,1)"><ellipse cx="0" cy="0" rx="2.50" ry="1.88" fill="none" stroke="#00ff00" stroke-width="1.6"/></g>
<g transform="translate(262.55,197.57) scale(1.4,1)"><ellipse cx="0" cy="0" rx="2.50" ry="1.88" fill="none" stroke="#00ff00" stroke-width="1.6"/></g>
<g transform="translate(273.20,194.63) scale(1.4,1)"><ellipse cx="0" cy="0" rx="2.50" ry="1.88" fill="none" stroke="#00ff00" stroke-width="1.6"/></g>
<g transform="translate(283.85,191.65) scale(1.4,1)"><ellipse cx="0" cy="0" rx="2.50" ry="1.88" fill="none" stroke="#00ff00" stroke-width="1.6"/></g>
<g transform="translate(294.50,188.83) scale(1.4,1)"><ellipse cx="0" cy="0" rx="2.50" ry="1.88" fill="none" stroke="#00ff00" stroke-width="1.6"/></g>
<g transform="translate(305.15,186.18) scale(1.4,1)"><ellipse cx="0" cy="0" rx="2.50" ry="1.88" fill="none" stroke="#00ff00" stroke-width="1.6"/></g>
<g transform="translate(315.80,183.69) scale(1.4,1)"><ellipse cx="0" cy="0" rx="2.50" ry="1.88" fill="none" stroke="#00ff00" stroke-width="1.6"/></g>
<g transform="translate(326.45,180.79) scale(1.4,1)"><ellipse cx="0" cy="0" rx="2.50" ry="1.88" fill="none" stroke="#00ff00" stroke-width="1.6"/></g>
<g transform="translate(337.10,178.07) scale(1.4,1)"><ellipse cx="0" cy="0" rx="2.50" ry="1.88" fill="none" stroke="#00ff00" stroke-width="1.6"/></g>
<g transform="translate(347.75,175.52) scale(1.4,1)"><ellipse cx="0" cy="0" rx="2.50" ry="1.88" fill="none" stroke="#00ff00" stroke-width="1.6"/></g>
<g transform="translate(358.40,173.13) scale(1.4,1)"><ellipse cx="0" cy="0" rx="2.50" ry="1.88" fill="none" stroke="#00ff00" stroke-width="1.6"/></g>
<g transform="translate(369.05,171.01) scale(1.4,1)"><ellipse cx="0" cy="0" rx="2.50" ry="1.88" fill="none" stroke="#00ff00" stroke-width="1.6"/></g>
<g transform="translate(379.70,169.00) scale(1.4,1)"><ellipse cx="0" cy="0" rx="2.50" ry="1.88" fill="none" stroke="#00ff00" stroke-width="1.6"/></g>
<g transform="translate(390.35,167.28) scale(1.4,1)"><ellipse cx="0" cy="0" rx="2.50" ry="1.88" fill="none" stroke="#00ff00" stroke-width="1.6"/></g>
<g transform="translate(401.00,165.64) scale(1.4,1)"><ellipse cx="0" cy="0" rx="2.50" ry="1.88" fill="none" stroke="#00ff00" stroke-width="1.6"/></g>
<g transform="translate(411.65,164.21) scale(1.4,1)"><ellipse cx="0" cy="0" rx="2.50" ry="1.88" fill="none" stroke="#00ff00" stroke-width="1.6"/></g>
<g transform="translate(422.30,162.84) scale(1.4,1)"><ellipse cx="0" cy="0" rx="2.50" ry="1.88" fill="none" stroke="#00ff00" stroke-width="1.6"/></g>
<g transform="translate(432.95,161.71) scale(1.4,1)"><ellipse cx="0" cy="0" rx="2.50" ry="1.88" fill="none" stroke="#00ff00" stroke-width="1.6"/></g>
<g transform="translate(443.60,160.63) scale(1.4,1)"><ellipse cx="0" cy="0" rx="2.50" ry="1.88" fill="none" stroke="#00ff00" stroke-width="1.6"/></g>
<g transform="translate(454.25,159.62) scale(1.4,1)"><ellipse cx="0" cy="0" rx="2.50" ry="1.88" fill="none" stroke="#00ff00" stroke-width="1.6"/></g>
<g transform="translate(464.90,158.65) scale(1.4,1)"><ellipse cx="0" cy="0" rx="2.50" ry="1.88" fill="none" stroke="#00ff00" stroke-width="1.6"/></g>
<g transform="translate(475.55,157.74) scale(1.4,1)"><ellipse cx="0" cy="0" rx="2.50" ry="1.88" fill="none" stroke="#00ff00" stroke-width="1.6"/></g>
<g transform="translate(486.20,156.87) scale(1.4,1)"><ellipse cx="0" cy="0" rx="2.50" ry="1.88" fill="none" stroke="#00ff00" stroke-width="1.6"/></g>
<g transform="translate(102.80,201.31) scale(1.4,1)"><polygon points="0.00,-1.90 0.76,-0.52 2.57,-0.35 1.23,0.68 1.59,2.17 0.00,1.43 -1.59,2.17 -1.23,0.68 -2.57,-0.35 -0.76,-0.52" fill="none" stroke="#0000ff" stroke-width="1.15" stroke-linejoin="miter" stroke-miterlimit="3"/></g>
<g transform="translate(113.45,199.33) scale(1.4,1)"><polygon points="0.00,-1.90 0.76,-0.52 2.57,-0.35 1.23,0.68 1.59,2.17 0.00,1.43 -1.59,2.17 -1.23,0.68 -2.57,-0.35 -0.76,-0.52" fill="none" stroke="#0000ff" stroke-width="1.15" stroke-linejoin="miter" stroke-miterlimit="3"/></g>
<g transform="translate(124.10,197.81) scale(1.4,1)"><polygon points="0.00,-1.90 0.76,-0.52 2.57,-0.35 1.23,0.68 1.59,2.17 0.00,1.43 -1.59,2.17 -1.23,0.68 -2.57,-0.35 -0.76,-0.52" fill="none" stroke="#0000ff" stroke-width="1.15" stroke-linejoin="miter" stroke-miterlimit="3"/></g>
<g transform="translate(134.75,196.60) scale(1.4,1)"><polygon points="0.00,-1.90 0.76,-0.52 2.57,-0.35 1.23,0.68 1.59,2.17 0.00,1.43 -1.59,2.17 -1.23,0.68 -2.57,-0.35 -0.76,-0.52" fill="none" stroke="#0000ff" stroke-width="1.15" stroke-linejoin="miter" stroke-miterlimit="3"/></g>
<g transform="translate(145.40,195.40) scale(1.4,1)"><polygon points="0.00,-1.90 0.76,-0.52 2.57,-0.35 1.23,0.68 1.59,2.17 0.00,1.43 -1.59,2.17 -1.23,0.68 -2.57,-0.35 -0.76,-0.52" fill="none" stroke="#0000ff" stroke-width="1.15" stroke-linejoin="miter" stroke-miterlimit="3"/></g>
<g transform="translate(156.05,194.53) scale(1.4,1)"><polygon points="0.00,-1.90 0.76,-0.52 2.57,-0.35 1.23,0.68 1.59,2.17 0.00,1.43 -1.59,2.17 -1.23,0.68 -2.57,-0.35 -0.76,-0.52" fill="none" stroke="#0000ff" stroke-width="1.15" stroke-linejoin="miter" stroke-miterlimit="3"/></g>
<g transform="translate(166.70,193.72) scale(1.4,1)"><polygon points="0.00,-1.90 0.76,-0.52 2.57,-0.35 1.23,0.68 1.59,2.17 0.00,1.43 -1.59,2.17 -1.23,0.68 -2.57,-0.35 -0.76,-0.52" fill="none" stroke="#0000ff" stroke-width="1.15" stroke-linejoin="miter" stroke-miterlimit="3"/></g>
<g transform="translate(177.35,193.13) scale(1.4,1)"><polygon points="0.00,-1.90 0.76,-0.52 2.57,-0.35 1.23,0.68 1.59,2.17 0.00,1.43 -1.59,2.17 -1.23,0.68 -2.57,-0.35 -0.76,-0.52" fill="none" stroke="#0000ff" stroke-width="1.15" stroke-linejoin="miter" stroke-miterlimit="3"/></g>
<g transform="translate(188.00,192.63) scale(1.4,1)"><polygon points="0.00,-1.90 0.76,-0.52 2.57,-0.35 1.23,0.68 1.59,2.17 0.00,1.43 -1.59,2.17 -1.23,0.68 -2.57,-0.35 -0.76,-0.52" fill="none" stroke="#0000ff" stroke-width="1.15" stroke-linejoin="miter" stroke-miterlimit="3"/></g>
<g transform="translate(198.65,191.94) scale(1.4,1)"><polygon points="0.00,-1.90 0.76,-0.52 2.57,-0.35 1.23,0.68 1.59,2.17 0.00,1.43 -1.59,2.17 -1.23,0.68 -2.57,-0.35 -0.76,-0.52" fill="none" stroke="#0000ff" stroke-width="1.15" stroke-linejoin="miter" stroke-miterlimit="3"/></g>
<g transform="translate(209.30,191.03) scale(1.4,1)"><polygon points="0.00,-1.90 0.76,-0.52 2.57,-0.35 1.23,0.68 1.59,2.17 0.00,1.43 -1.59,2.17 -1.23,0.68 -2.57,-0.35 -0.76,-0.52" fill="none" stroke="#0000ff" stroke-width="1.15" stroke-linejoin="miter" stroke-miterlimit="3"/></g>
<g transform="translate(219.95,190.15) scale(1.4,1)"><polygon points="0.00,-1.90 0.76,-0.52 2.57,-0.35 1.23,0.68 1.59,2.17 0.00,1.43 -1.59,2.17 -1.23,0.68 -2.57,-0.35 -0.76,-0.52" fill="none" stroke="#0000ff" stroke-width="1.15" stroke-linejoin="miter" stroke-miterlimit="3"/></g>
<g transform="translate(230.60,189.13) scale(1.4,1)"><polygon points="0.00,-1.90 0.76,-0.52 2.57,-0.35 1.23,0.68 1.59,2.17 0.00,1.43 -1.59,2.17 -1.23,0.68 -2.57,-0.35 -0.76,-0.52" fill="none" stroke="#0000ff" stroke-width="1.15" stroke-linejoin="miter" stroke-miterlimit="3"/></g>
<g transform="translate(241.25,188.10) scale(1.4,1)"><polygon points="0.00,-1.90 0.76,-0.52 2.57,-0.35 1.23,0.68 1.59,2.17 0.00,1.43 -1.59,2.17 -1.23,0.68 -2.57,-0.35 -0.76,-0.52" fill="none" stroke="#0000ff" stroke-width="1.15" stroke-linejoin="miter" stroke-miterlimit="3"/></g>
<g transform="translate(251.90,186.99) scale(1.4,1)"><polygon points="0.00,-1.90 0.76,-0.52 2.57,-0.35 1.23,0.68 1.59,2.17 0.00,1.43 -1.59,2.17 -1.23,0.68 -2.57,-0.35 -0.76,-0.52" fill="none" stroke="#0000ff" stroke-width="1.15" stroke-linejoin="miter" stroke-miterlimit="3"/></g>
<g transform="translate(262.55,185.86) scale(1.4,1)"><polygon points="0.00,-1.90 0.76,-0.52 2.57,-0.35 1.23,0.68 1.59,2.17 0.00,1.43 -1.59,2.17 -1.23,0.68 -2.57,-0.35 -0.76,-0.52" fill="none" stroke="#0000ff" stroke-width="1.15" stroke-linejoin="miter" stroke-miterlimit="3"/></g>
<g transform="translate(273.20,184.61) scale(1.4,1)"><polygon points="0.00,-1.90 0.76,-0.52 2.57,-0.35 1.23,0.68 1.59,2.17 0.00,1.43 -1.59,2.17 -1.23,0.68 -2.57,-0.35 -0.76,-0.52" fill="none" stroke="#0000ff" stroke-width="1.15" stroke-linejoin="miter" stroke-miterlimit="3"/></g>
<g transform="translate(283.85,183.20) scale(1.4,1)"><polygon points="0.00,-1.90 0.76,-0.52 2.57,-0.35 1.23,0.68 1.59,2.17 0.00,1.43 -1.59,2.17 -1.23,0.68 -2.57,-0.35 -0.76,-0.52" fill="none" stroke="#0000ff" stroke-width="1.15" stroke-linejoin="miter" stroke-miterlimit="3"/></g>
<g transform="translate(294.50,181.71) scale(1.4,1)"><polygon points="0.00,-1.90 0.76,-0.52 2.57,-0.35 1.23,0.68 1.59,2.17 0.00,1.43 -1.59,2.17 -1.23,0.68 -2.57,-0.35 -0.76,-0.52" fill="none" stroke="#0000ff" stroke-width="1.15" stroke-linejoin="miter" stroke-miterlimit="3"/></g>
<g transform="translate(305.15,180.20) scale(1.4,1)"><polygon points="0.00,-1.90 0.76,-0.52 2.57,-0.35 1.23,0.68 1.59,2.17 0.00,1.43 -1.59,2.17 -1.23,0.68 -2.57,-0.35 -0.76,-0.52" fill="none" stroke="#0000ff" stroke-width="1.15" stroke-linejoin="miter" stroke-miterlimit="3"/></g>
<g transform="translate(315.80,178.64) scale(1.4,1)"><polygon points="0.00,-1.90 0.76,-0.52 2.57,-0.35 1.23,0.68 1.59,2.17 0.00,1.43 -1.59,2.17 -1.23,0.68 -2.57,-0.35 -0.76,-0.52" fill="none" stroke="#0000ff" stroke-width="1.15" stroke-linejoin="miter" stroke-miterlimit="3"/></g>
<g transform="translate(326.45,176.72) scale(1.4,1)"><polygon points="0.00,-1.90 0.76,-0.52 2.57,-0.35 1.23,0.68 1.59,2.17 0.00,1.43 -1.59,2.17 -1.23,0.68 -2.57,-0.35 -0.76,-0.52" fill="none" stroke="#0000ff" stroke-width="1.15" stroke-linejoin="miter" stroke-miterlimit="3"/></g>
<g transform="translate(337.10,174.77) scale(1.4,1)"><polygon points="0.00,-1.90 0.76,-0.52 2.57,-0.35 1.23,0.68 1.59,2.17 0.00,1.43 -1.59,2.17 -1.23,0.68 -2.57,-0.35 -0.76,-0.52" fill="none" stroke="#0000ff" stroke-width="1.15" stroke-linejoin="miter" stroke-miterlimit="3"/></g>
<g transform="translate(347.75,172.83) scale(1.4,1)"><polygon points="0.00,-1.90 0.76,-0.52 2.57,-0.35 1.23,0.68 1.59,2.17 0.00,1.43 -1.59,2.17 -1.23,0.68 -2.57,-0.35 -0.76,-0.52" fill="none" stroke="#0000ff" stroke-width="1.15" stroke-linejoin="miter" stroke-miterlimit="3"/></g>
<g transform="translate(358.40,170.91) scale(1.4,1)"><polygon points="0.00,-1.90 0.76,-0.52 2.57,-0.35 1.23,0.68 1.59,2.17 0.00,1.43 -1.59,2.17 -1.23,0.68 -2.57,-0.35 -0.76,-0.52" fill="none" stroke="#0000ff" stroke-width="1.15" stroke-linejoin="miter" stroke-miterlimit="3"/></g>
<g transform="translate(369.05,169.12) scale(1.4,1)"><polygon points="0.00,-1.90 0.76,-0.52 2.57,-0.35 1.23,0.68 1.59,2.17 0.00,1.43 -1.59,2.17 -1.23,0.68 -2.57,-0.35 -0.76,-0.52" fill="none" stroke="#0000ff" stroke-width="1.15" stroke-linejoin="miter" stroke-miterlimit="3"/></g>
<g transform="translate(379.70,167.39) scale(1.4,1)"><polygon points="0.00,-1.90 0.76,-0.52 2.57,-0.35 1.23,0.68 1.59,2.17 0.00,1.43 -1.59,2.17 -1.23,0.68 -2.57,-0.35 -0.76,-0.52" fill="none" stroke="#0000ff" stroke-width="1.15" stroke-linejoin="miter" stroke-miterlimit="3"/></g>
<g transform="translate(390.35,165.87) scale(1.4,1)"><polygon points="0.00,-1.90 0.76,-0.52 2.57,-0.35 1.23,0.68 1.59,2.17 0.00,1.43 -1.59,2.17 -1.23,0.68 -2.57,-0.35 -0.76,-0.52" fill="none" stroke="#0000ff" stroke-width="1.15" stroke-linejoin="miter" stroke-miterlimit="3"/></g>
<g transform="translate(401.00,164.41) scale(1.4,1)"><polygon points="0.00,-1.90 0.76,-0.52 2.57,-0.35 1.23,0.68 1.59,2.17 0.00,1.43 -1.59,2.17 -1.23,0.68 -2.57,-0.35 -0.76,-0.52" fill="none" stroke="#0000ff" stroke-width="1.15" stroke-linejoin="miter" stroke-miterlimit="3"/></g>
<g transform="translate(411.65,163.10) scale(1.4,1)"><polygon points="0.00,-1.90 0.76,-0.52 2.57,-0.35 1.23,0.68 1.59,2.17 0.00,1.43 -1.59,2.17 -1.23,0.68 -2.57,-0.35 -0.76,-0.52" fill="none" stroke="#0000ff" stroke-width="1.15" stroke-linejoin="miter" stroke-miterlimit="3"/></g>
<g transform="translate(422.30,161.85) scale(1.4,1)"><polygon points="0.00,-1.90 0.76,-0.52 2.57,-0.35 1.23,0.68 1.59,2.17 0.00,1.43 -1.59,2.17 -1.23,0.68 -2.57,-0.35 -0.76,-0.52" fill="none" stroke="#0000ff" stroke-width="1.15" stroke-linejoin="miter" stroke-miterlimit="3"/></g>
<g transform="translate(432.95,160.80) scale(1.4,1)"><polygon points="0.00,-1.90 0.76,-0.52 2.57,-0.35 1.23,0.68 1.59,2.17 0.00,1.43 -1.59,2.17 -1.23,0.68 -2.57,-0.35 -0.76,-0.52" fill="none" stroke="#0000ff" stroke-width="1.15" stroke-linejoin="miter" stroke-miterlimit="3"/></g>
<g transform="translate(443.60,159.79) scale(1.4,1)"><polygon points="0.00,-1.90 0.76,-0.52 2.57,-0.35 1.23,0.68 1.59,2.17 0.00,1.43 -1.59,2.17 -1.23,0.68 -2.57,-0.35 -0.76,-0.52" fill="none" stroke="#0000ff" stroke-width="1.15" stroke-linejoin="miter" stroke-miterlimit="3"/></g>
<g transform="translate(454.25,158.84) scale(1.4,1)"><polygon points="0.00,-1.90 0.76,-0.52 2.57,-0.35 1.23,0.68 1.59,2.17 0.00,1.43 -1.59,2.17 -1.23,0.68 -2.57,-0.35 -0.76,-0.52" fill="none" stroke="#0000ff" stroke-width="1.15" stroke-linejoin="miter" stroke-miterlimit="3"/></g>
<g transform="translate(464.90,157.93) scale(1.4,1)"><polygon points="0.00,-1.90 0.76,-0.52 2.57,-0.35 1.23,0.68 1.59,2.17 0.00,1.43 -1.59,2.17 -1.23,0.68 -2.57,-0.35 -0.76,-0.52" fill="none" stroke="#0000ff" stroke-width="1.15" stroke-linejoin="miter" stroke-miterlimit="3"/></g>
<g transform="translate(475.55,157.06) scale(1.4,1)"><polygon points="0.00,-1.90 0.76,-0.52 2.57,-0.35 1.23,0.68 1.59,2.17 0.00,1.43 -1.59,2.17 -1.23,0.68 -2.57,-0.35 -0.76,-0.52" fill="none" stroke="#0000ff" stroke-width="1.15" stroke-linejoin="miter" stroke-miterlimit="3"/></g>
<g transform="translate(486.20,156.23) scale(1.4,1)"><polygon points="0.00,-1.90 0.76,-0.52 2.57,-0.35 1.23,0.68 1.59,2.17 0.00,1.43 -1.59,2.17 -1.23,0.68 -2.57,-0.35 -0.76,-0.52" fill="none" stroke="#0000ff" stroke-width="1.15" stroke-linejoin="miter" stroke-miterlimit="3"/></g>
<g transform="translate(102.80,176.78) scale(1.4,1)"><polygon points="2.62,0.00 1.31,2.09 -1.31,2.09 -2.62,0.00 -1.31,-2.09 1.31,-2.09" fill="none" stroke="#ff8000" stroke-width="1.6" stroke-linejoin="miter"/></g>
<g transform="translate(113.45,174.80) scale(1.4,1)"><polygon points="2.62,0.00 1.31,2.09 -1.31,2.09 -2.62,0.00 -1.31,-2.09 1.31,-2.09" fill="none" stroke="#ff8000" stroke-width="1.6" stroke-linejoin="miter"/></g>
<g transform="translate(124.10,173.28) scale(1.4,1)"><polygon points="2.62,0.00 1.31,2.09 -1.31,2.09 -2.62,0.00 -1.31,-2.09 1.31,-2.09" fill="none" stroke="#ff8000" stroke-width="1.6" stroke-linejoin="miter"/></g>
<g transform="translate(134.75,172.07) scale(1.4,1)"><polygon points="2.62,0.00 1.31,2.09 -1.31,2.09 -2.62,0.00 -1.31,-2.09 1.31,-2.09" fill="none" stroke="#ff8000" stroke-width="1.6" stroke-linejoin="miter"/></g>
<g transform="translate(145.40,170.87) scale(1.4,1)"><polygon points="2.62,0.00 1.31,2.09 -1.31,2.09 -2.62,0.00 -1.31,-2.09 1.31,-2.09" fill="none" stroke="#ff8000" stroke-width="1.6" stroke-linejoin="miter"/></g>
<g transform="translate(156.05,170.00) scale(1.4,1)"><polygon points="2.62,0.00 1.31,2.09 -1.31,2.09 -2.62,0.00 -1.31,-2.09 1.31,-2.09" fill="none" stroke="#ff8000" stroke-width="1.6" stroke-linejoin="miter"/></g>
<g transform="translate(166.70,169.20) scale(1.4,1)"><polygon points="2.62,0.00 1.31,2.09 -1.31,2.09 -2.62,0.00 -1.31,-2.09 1.31,-2.09" fill="none" stroke="#ff8000" stroke-width="1.6" stroke-linejoin="miter"/></g>
<g transform="translate(177.35,168.63) scale(1.4,1)"><polygon points="2.62,0.00 1.31,2.09 -1.31,2.09 -2.62,0.00 -1.31,-2.09 1.31,-2.09" fill="none" stroke="#ff8000" stroke-width="1.6" stroke-linejoin="miter"/></g>
<g transform="translate(188.00,168.18) scale(1.4,1)"><polygon points="2.62,0.00 1.31,2.09 -1.31,2.09 -2.62,0.00 -1.31,-2.09 1.31,-2.09" fill="none" stroke="#ff8000" stroke-width="1.6" stroke-linejoin="miter"/></g>
<g transform="translate(198.65,167.57) scale(1.4,1)"><polygon points="2.62,0.00 1.31,2.09 -1.31,2.09 -2.62,0.00 -1.31,-2.09 1.31,-2.09" fill="none" stroke="#ff8000" stroke-width="1.6" stroke-linejoin="miter"/></g>
<g transform="translate(209.30,166.80) scale(1.4,1)"><polygon points="2.62,0.00 1.31,2.09 -1.31,2.09 -2.62,0.00 -1.31,-2.09 1.31,-2.09" fill="none" stroke="#ff8000" stroke-width="1.6" stroke-linejoin="miter"/></g>
<g transform="translate(219.95,166.14) scale(1.4,1)"><polygon points="2.62,0.00 1.31,2.09 -1.31,2.09 -2.62,0.00 -1.31,-2.09 1.31,-2.09" fill="none" stroke="#ff8000" stroke-width="1.6" stroke-linejoin="miter"/></g>
<g transform="translate(230.60,165.51) scale(1.4,1)"><polygon points="2.62,0.00 1.31,2.09 -1.31,2.09 -2.62,0.00 -1.31,-2.09 1.31,-2.09" fill="none" stroke="#ff8000" stroke-width="1.6" stroke-linejoin="miter"/></g>
<g transform="translate(241.25,165.03) scale(1.4,1)"><polygon points="2.62,0.00 1.31,2.09 -1.31,2.09 -2.62,0.00 -1.31,-2.09 1.31,-2.09" fill="none" stroke="#ff8000" stroke-width="1.6" stroke-linejoin="miter"/></g>
<g transform="translate(251.90,164.55) scale(1.4,1)"><polygon points="2.62,0.00 1.31,2.09 -1.31,2.09 -2.62,0.00 -1.31,-2.09 1.31,-2.09" fill="none" stroke="#ff8000" stroke-width="1.6" stroke-linejoin="miter"/></g>
<g transform="translate(262.55,164.15) scale(1.4,1)"><polygon points="2.62,0.00 1.31,2.09 -1.31,2.09 -2.62,0.00 -1.31,-2.09 1.31,-2.09" fill="none" stroke="#ff8000" stroke-width="1.6" stroke-linejoin="miter"/></g>
<g transform="translate(273.20,163.73) scale(1.4,1)"><polygon points="2.62,0.00 1.31,2.09 -1.31,2.09 -2.62,0.00 -1.31,-2.09 1.31,-2.09" fill="none" stroke="#ff8000" stroke-width="1.6" stroke-linejoin="miter"/></g>
<g transform="translate(283.85,163.31) scale(1.4,1)"><polygon points="2.62,0.00 1.31,2.09 -1.31,2.09 -2.62,0.00 -1.31,-2.09 1.31,-2.09" fill="none" stroke="#ff8000" stroke-width="1.6" stroke-linejoin="miter"/></g>
<g transform="translate(294.50,163.04) scale(1.4,1)"><polygon points="2.62,0.00 1.31,2.09 -1.31,2.09 -2.62,0.00 -1.31,-2.09 1.31,-2.09" fill="none" stroke="#ff8000" stroke-width="1.6" stroke-linejoin="miter"/></g>
<g transform="translate(305.15,162.81) scale(1.4,1)"><polygon points="2.62,0.00 1.31,2.09 -1.31,2.09 -2.62,0.00 -1.31,-2.09 1.31,-2.09" fill="none" stroke="#ff8000" stroke-width="1.6" stroke-linejoin="miter"/></g>
<g transform="translate(315.80,162.55) scale(1.4,1)"><polygon points="2.62,0.00 1.31,2.09 -1.31,2.09 -2.62,0.00 -1.31,-2.09 1.31,-2.09" fill="none" stroke="#ff8000" stroke-width="1.6" stroke-linejoin="miter"/></g>
<g transform="translate(326.45,162.23) scale(1.4,1)"><polygon points="2.62,0.00 1.31,2.09 -1.31,2.09 -2.62,0.00 -1.31,-2.09 1.31,-2.09" fill="none" stroke="#ff8000" stroke-width="1.6" stroke-linejoin="miter"/></g>
<g transform="translate(337.10,161.70) scale(1.4,1)"><polygon points="2.62,0.00 1.31,2.09 -1.31,2.09 -2.62,0.00 -1.31,-2.09 1.31,-2.09" fill="none" stroke="#ff8000" stroke-width="1.6" stroke-linejoin="miter"/></g>
<g transform="translate(347.75,161.10) scale(1.4,1)"><polygon points="2.62,0.00 1.31,2.09 -1.31,2.09 -2.62,0.00 -1.31,-2.09 1.31,-2.09" fill="none" stroke="#ff8000" stroke-width="1.6" stroke-linejoin="miter"/></g>
<g transform="translate(358.40,160.44) scale(1.4,1)"><polygon points="2.62,0.00 1.31,2.09 -1.31,2.09 -2.62,0.00 -1.31,-2.09 1.31,-2.09" fill="none" stroke="#ff8000" stroke-width="1.6" stroke-linejoin="miter"/></g>
<g transform="translate(369.05,159.69) scale(1.4,1)"><polygon points="2.62,0.00 1.31,2.09 -1.31,2.09 -2.62,0.00 -1.31,-2.09 1.31,-2.09" fill="none" stroke="#ff8000" stroke-width="1.6" stroke-linejoin="miter"/></g>
<g transform="translate(379.70,158.92) scale(1.4,1)"><polygon points="2.62,0.00 1.31,2.09 -1.31,2.09 -2.62,0.00 -1.31,-2.09 1.31,-2.09" fill="none" stroke="#ff8000" stroke-width="1.6" stroke-linejoin="miter"/></g>
<g transform="translate(390.35,157.98) scale(1.4,1)"><polygon points="2.62,0.00 1.31,2.09 -1.31,2.09 -2.62,0.00 -1.31,-2.09 1.31,-2.09" fill="none" stroke="#ff8000" stroke-width="1.6" stroke-linejoin="miter"/></g>
<g transform="translate(401.00,157.04) scale(1.4,1)"><polygon points="2.62,0.00 1.31,2.09 -1.31,2.09 -2.62,0.00 -1.31,-2.09 1.31,-2.09" fill="none" stroke="#ff8000" stroke-width="1.6" stroke-linejoin="miter"/></g>
<g transform="translate(411.65,156.14) scale(1.4,1)"><polygon points="2.62,0.00 1.31,2.09 -1.31,2.09 -2.62,0.00 -1.31,-2.09 1.31,-2.09" fill="none" stroke="#ff8000" stroke-width="1.6" stroke-linejoin="miter"/></g>
<g transform="translate(422.30,155.24) scale(1.4,1)"><polygon points="2.62,0.00 1.31,2.09 -1.31,2.09 -2.62,0.00 -1.31,-2.09 1.31,-2.09" fill="none" stroke="#ff8000" stroke-width="1.6" stroke-linejoin="miter"/></g>
<g transform="translate(432.95,154.42) scale(1.4,1)"><polygon points="2.62,0.00 1.31,2.09 -1.31,2.09 -2.62,0.00 -1.31,-2.09 1.31,-2.09" fill="none" stroke="#ff8000" stroke-width="1.6" stroke-linejoin="miter"/></g>
<g transform="translate(443.60,153.78) scale(1.4,1)"><polygon points="2.62,0.00 1.31,2.09 -1.31,2.09 -2.62,0.00 -1.31,-2.09 1.31,-2.09" fill="none" stroke="#ff8000" stroke-width="1.6" stroke-linejoin="miter"/></g>
<g transform="translate(454.25,153.15) scale(1.4,1)"><polygon points="2.62,0.00 1.31,2.09 -1.31,2.09 -2.62,0.00 -1.31,-2.09 1.31,-2.09" fill="none" stroke="#ff8000" stroke-width="1.6" stroke-linejoin="miter"/></g>
<g transform="translate(464.90,152.53) scale(1.4,1)"><polygon points="2.62,0.00 1.31,2.09 -1.31,2.09 -2.62,0.00 -1.31,-2.09 1.31,-2.09" fill="none" stroke="#ff8000" stroke-width="1.6" stroke-linejoin="miter"/></g>
<g transform="translate(475.55,151.93) scale(1.4,1)"><polygon points="2.62,0.00 1.31,2.09 -1.31,2.09 -2.62,0.00 -1.31,-2.09 1.31,-2.09" fill="none" stroke="#ff8000" stroke-width="1.6" stroke-linejoin="miter"/></g>
<g transform="translate(486.20,151.35) scale(1.4,1)"><polygon points="2.62,0.00 1.31,2.09 -1.31,2.09 -2.62,0.00 -1.31,-2.09 1.31,-2.09" fill="none" stroke="#ff8000" stroke-width="1.6" stroke-linejoin="miter"/></g>
<g transform="translate(102.80,152.25) scale(1.4,1)"><polygon points="1.75,-2.20 1.75,2.20 -2.85,0.00" fill="none" stroke="#00ffff" stroke-width="1.35" stroke-linejoin="miter"/></g>
<g transform="translate(113.45,150.27) scale(1.4,1)"><polygon points="1.75,-2.20 1.75,2.20 -2.85,0.00" fill="none" stroke="#00ffff" stroke-width="1.35" stroke-linejoin="miter"/></g>
<g transform="translate(124.10,148.75) scale(1.4,1)"><polygon points="1.75,-2.20 1.75,2.20 -2.85,0.00" fill="none" stroke="#00ffff" stroke-width="1.35" stroke-linejoin="miter"/></g>
<g transform="translate(134.75,147.54) scale(1.4,1)"><polygon points="1.75,-2.20 1.75,2.20 -2.85,0.00" fill="none" stroke="#00ffff" stroke-width="1.35" stroke-linejoin="miter"/></g>
<g transform="translate(145.40,146.34) scale(1.4,1)"><polygon points="1.75,-2.20 1.75,2.20 -2.85,0.00" fill="none" stroke="#00ffff" stroke-width="1.35" stroke-linejoin="miter"/></g>
<g transform="translate(156.05,145.47) scale(1.4,1)"><polygon points="1.75,-2.20 1.75,2.20 -2.85,0.00" fill="none" stroke="#00ffff" stroke-width="1.35" stroke-linejoin="miter"/></g>
<g transform="translate(166.70,144.67) scale(1.4,1)"><polygon points="1.75,-2.20 1.75,2.20 -2.85,0.00" fill="none" stroke="#00ffff" stroke-width="1.35" stroke-linejoin="miter"/></g>
<g transform="translate(177.35,144.10) scale(1.4,1)"><polygon points="1.75,-2.20 1.75,2.20 -2.85,0.00" fill="none" stroke="#00ffff" stroke-width="1.35" stroke-linejoin="miter"/></g>
<g transform="translate(188.00,143.65) scale(1.4,1)"><polygon points="1.75,-2.20 1.75,2.20 -2.85,0.00" fill="none" stroke="#00ffff" stroke-width="1.35" stroke-linejoin="miter"/></g>
<g transform="translate(198.65,143.05) scale(1.4,1)"><polygon points="1.75,-2.20 1.75,2.20 -2.85,0.00" fill="none" stroke="#00ffff" stroke-width="1.35" stroke-linejoin="miter"/></g>
<g transform="translate(209.30,142.30) scale(1.4,1)"><polygon points="1.75,-2.20 1.75,2.20 -2.85,0.00" fill="none" stroke="#00ffff" stroke-width="1.35" stroke-linejoin="miter"/></g>
<g transform="translate(219.95,141.67) scale(1.4,1)"><polygon points="1.75,-2.20 1.75,2.20 -2.85,0.00" fill="none" stroke="#00ffff" stroke-width="1.35" stroke-linejoin="miter"/></g>
<g transform="translate(230.60,141.07) scale(1.4,1)"><polygon points="1.75,-2.20 1.75,2.20 -2.85,0.00" fill="none" stroke="#00ffff" stroke-width="1.35" stroke-linejoin="miter"/></g>
<g transform="translate(241.25,140.78) scale(1.4,1)"><polygon points="1.75,-2.20 1.75,2.20 -2.85,0.00" fill="none" stroke="#00ffff" stroke-width="1.35" stroke-linejoin="miter"/></g>
<g transform="translate(251.90,140.50) scale(1.4,1)"><polygon points="1.75,-2.20 1.75,2.20 -2.85,0.00" fill="none" stroke="#00ffff" stroke-width="1.35" stroke-linejoin="miter"/></g>
<g transform="translate(262.55,140.32) scale(1.4,1)"><polygon points="1.75,-2.20 1.75,2.20 -2.85,0.00" fill="none" stroke="#00ffff" stroke-width="1.35" stroke-linejoin="miter"/></g>
<g transform="translate(273.20,140.14) scale(1.4,1)"><polygon points="1.75,-2.20 1.75,2.20 -2.85,0.00" fill="none" stroke="#00ffff" stroke-width="1.35" stroke-linejoin="miter"/></g>
<g transform="translate(283.85,139.92) scale(1.4,1)"><polygon points="1.75,-2.20 1.75,2.20 -2.85,0.00" fill="none" stroke="#00ffff" stroke-width="1.35" stroke-linejoin="miter"/></g>
<g transform="translate(294.50,139.71) scale(1.4,1)"><polygon points="1.75,-2.20 1.75,2.20 -2.85,0.00" fill="none" stroke="#00ffff" stroke-width="1.35" stroke-linejoin="miter"/></g>
<g transform="translate(305.15,139.57) scale(1.4,1)"><polygon points="1.75,-2.20 1.75,2.20 -2.85,0.00" fill="none" stroke="#00ffff" stroke-width="1.35" stroke-linejoin="miter"/></g>
<g transform="translate(315.80,139.44) scale(1.4,1)"><polygon points="1.75,-2.20 1.75,2.20 -2.85,0.00" fill="none" stroke="#00ffff" stroke-width="1.35" stroke-linejoin="miter"/></g>
<g transform="translate(326.45,139.30) scale(1.4,1)"><polygon points="1.75,-2.20 1.75,2.20 -2.85,0.00" fill="none" stroke="#00ffff" stroke-width="1.35" stroke-linejoin="miter"/></g>
<g transform="translate(337.10,139.17) scale(1.4,1)"><polygon points="1.75,-2.20 1.75,2.20 -2.85,0.00" fill="none" stroke="#00ffff" stroke-width="1.35" stroke-linejoin="miter"/></g>
<g transform="translate(347.75,139.02) scale(1.4,1)"><polygon points="1.75,-2.20 1.75,2.20 -2.85,0.00" fill="none" stroke="#00ffff" stroke-width="1.35" stroke-linejoin="miter"/></g>
<g transform="translate(358.40,138.86) scale(1.4,1)"><polygon points="1.75,-2.20 1.75,2.20 -2.85,0.00" fill="none" stroke="#00ffff" stroke-width="1.35" stroke-linejoin="miter"/></g>
<g transform="translate(369.05,138.59) scale(1.4,1)"><polygon points="1.75,-2.20 1.75,2.20 -2.85,0.00" fill="none" stroke="#00ffff" stroke-width="1.35" stroke-linejoin="miter"/></g>
<g transform="translate(379.70,138.32) scale(1.4,1)"><polygon points="1.75,-2.20 1.75,2.20 -2.85,0.00" fill="none" stroke="#00ffff" stroke-width="1.35" stroke-linejoin="miter"/></g>
<g transform="translate(390.35,137.92) scale(1.4,1)"><polygon points="1.75,-2.20 1.75,2.20 -2.85,0.00" fill="none" stroke="#00ffff" stroke-width="1.35" stroke-linejoin="miter"/></g>
<g transform="translate(401.00,137.53) scale(1.4,1)"><polygon points="1.75,-2.20 1.75,2.20 -2.85,0.00" fill="none" stroke="#00ffff" stroke-width="1.35" stroke-linejoin="miter"/></g>
<g transform="translate(411.65,137.14) scale(1.4,1)"><polygon points="1.75,-2.20 1.75,2.20 -2.85,0.00" fill="none" stroke="#00ffff" stroke-width="1.35" stroke-linejoin="miter"/></g>
<g transform="translate(422.30,136.75) scale(1.4,1)"><polygon points="1.75,-2.20 1.75,2.20 -2.85,0.00" fill="none" stroke="#00ffff" stroke-width="1.35" stroke-linejoin="miter"/></g>
<g transform="translate(432.95,136.37) scale(1.4,1)"><polygon points="1.75,-2.20 1.75,2.20 -2.85,0.00" fill="none" stroke="#00ffff" stroke-width="1.35" stroke-linejoin="miter"/></g>
<g transform="translate(443.60,135.99) scale(1.4,1)"><polygon points="1.75,-2.20 1.75,2.20 -2.85,0.00" fill="none" stroke="#00ffff" stroke-width="1.35" stroke-linejoin="miter"/></g>
<g transform="translate(454.25,135.72) scale(1.4,1)"><polygon points="1.75,-2.20 1.75,2.20 -2.85,0.00" fill="none" stroke="#00ffff" stroke-width="1.35" stroke-linejoin="miter"/></g>
<g transform="translate(464.90,135.45) scale(1.4,1)"><polygon points="1.75,-2.20 1.75,2.20 -2.85,0.00" fill="none" stroke="#00ffff" stroke-width="1.35" stroke-linejoin="miter"/></g>
<g transform="translate(475.55,135.18) scale(1.4,1)"><polygon points="1.75,-2.20 1.75,2.20 -2.85,0.00" fill="none" stroke="#00ffff" stroke-width="1.35" stroke-linejoin="miter"/></g>
<g transform="translate(486.20,134.92) scale(1.4,1)"><polygon points="1.75,-2.20 1.75,2.20 -2.85,0.00" fill="none" stroke="#00ffff" stroke-width="1.35" stroke-linejoin="miter"/></g>
</g>
<line x1="102.1" y1="131.6" x2="486.9" y2="131.6" stroke="#444" stroke-width="0.85"/>
<line x1="102.1" y1="285.6" x2="486.9" y2="285.6" stroke="#555" stroke-width="0.8"/>
<line x1="102.8" y1="131.2" x2="102.8" y2="286.0" stroke="#1a1a1a" stroke-width="1.4"/>
<line x1="486.2" y1="131.2" x2="486.2" y2="286.0" stroke="#1a1a1a" stroke-width="1.6"/>
<line x1="97.3" y1="285.48" x2="102.8" y2="285.48" stroke="#1a1a1a" stroke-width="0.95"/>
<line x1="480.7" y1="285.48" x2="486.2" y2="285.48" stroke="#1a1a1a" stroke-width="1.15"/>
<line x1="99.3" y1="278.10" x2="102.8" y2="278.10" stroke="#1a1a1a" stroke-width="0.9"/>
<line x1="482.7" y1="278.10" x2="486.2" y2="278.10" stroke="#1a1a1a" stroke-width="1.0"/>
<line x1="99.3" y1="273.78" x2="102.8" y2="273.78" stroke="#1a1a1a" stroke-width="0.9"/>
<line x1="482.7" y1="273.78" x2="486.2" y2="273.78" stroke="#1a1a1a" stroke-width="1.0"/>
<line x1="99.3" y1="270.71" x2="102.8" y2="270.71" stroke="#1a1a1a" stroke-width="0.9"/>
<line x1="482.7" y1="270.71" x2="486.2" y2="270.71" stroke="#1a1a1a" stroke-width="1.0"/>
<line x1="99.3" y1="268.33" x2="102.8" y2="268.33" stroke="#1a1a1a" stroke-width="0.9"/>
<line x1="482.7" y1="268.33" x2="486.2" y2="268.33" stroke="#1a1a1a" stroke-width="1.0"/>
<line x1="99.3" y1="266.39" x2="102.8" y2="266.39" stroke="#1a1a1a" stroke-width="0.9"/>
<line x1="482.7" y1="266.39" x2="486.2" y2="266.39" stroke="#1a1a1a" stroke-width="1.0"/>
<line x1="99.3" y1="264.75" x2="102.8" y2="264.75" stroke="#1a1a1a" stroke-width="0.9"/>
<line x1="482.7" y1="264.75" x2="486.2" y2="264.75" stroke="#1a1a1a" stroke-width="1.0"/>
<line x1="99.3" y1="263.33" x2="102.8" y2="263.33" stroke="#1a1a1a" stroke-width="0.9"/>
<line x1="482.7" y1="263.33" x2="486.2" y2="263.33" stroke="#1a1a1a" stroke-width="1.0"/>
<line x1="99.3" y1="262.07" x2="102.8" y2="262.07" stroke="#1a1a1a" stroke-width="0.9"/>
<line x1="482.7" y1="262.07" x2="486.2" y2="262.07" stroke="#1a1a1a" stroke-width="1.0"/>
<line x1="97.3" y1="260.95" x2="102.8" y2="260.95" stroke="#1a1a1a" stroke-width="0.95"/>
<line x1="480.7" y1="260.95" x2="486.2" y2="260.95" stroke="#1a1a1a" stroke-width="1.15"/>
<line x1="99.3" y1="253.57" x2="102.8" y2="253.57" stroke="#1a1a1a" stroke-width="0.9"/>
<line x1="482.7" y1="253.57" x2="486.2" y2="253.57" stroke="#1a1a1a" stroke-width="1.0"/>
<line x1="99.3" y1="249.25" x2="102.8" y2="249.25" stroke="#1a1a1a" stroke-width="0.9"/>
<line x1="482.7" y1="249.25" x2="486.2" y2="249.25" stroke="#1a1a1a" stroke-width="1.0"/>
<line x1="99.3" y1="246.18" x2="102.8" y2="246.18" stroke="#1a1a1a" stroke-width="0.9"/>
<line x1="482.7" y1="246.18" x2="486.2" y2="246.18" stroke="#1a1a1a" stroke-width="1.0"/>
<line x1="99.3" y1="243.80" x2="102.8" y2="243.80" stroke="#1a1a1a" stroke-width="0.9"/>
<line x1="482.7" y1="243.80" x2="486.2" y2="243.80" stroke="#1a1a1a" stroke-width="1.0"/>
<line x1="99.3" y1="241.86" x2="102.8" y2="241.86" stroke="#1a1a1a" stroke-width="0.9"/>
<line x1="482.7" y1="241.86" x2="486.2" y2="241.86" stroke="#1a1a1a" stroke-width="1.0"/>
<line x1="99.3" y1="240.22" x2="102.8" y2="240.22" stroke="#1a1a1a" stroke-width="0.9"/>
<line x1="482.7" y1="240.22" x2="486.2" y2="240.22" stroke="#1a1a1a" stroke-width="1.0"/>
<line x1="99.3" y1="238.80" x2="102.8" y2="238.80" stroke="#1a1a1a" stroke-width="0.9"/>
<line x1="482.7" y1="238.80" x2="486.2" y2="238.80" stroke="#1a1a1a" stroke-width="1.0"/>
<line x1="99.3" y1="237.54" x2="102.8" y2="237.54" stroke="#1a1a1a" stroke-width="0.9"/>
<line x1="482.7" y1="237.54" x2="486.2" y2="237.54" stroke="#1a1a1a" stroke-width="1.0"/>
<line x1="97.3" y1="236.42" x2="102.8" y2="236.42" stroke="#1a1a1a" stroke-width="0.95"/>
<line x1="480.7" y1="236.42" x2="486.2" y2="236.42" stroke="#1a1a1a" stroke-width="1.15"/>
<line x1="99.3" y1="229.04" x2="102.8" y2="229.04" stroke="#1a1a1a" stroke-width="0.9"/>
<line x1="482.7" y1="229.04" x2="486.2" y2="229.04" stroke="#1a1a1a" stroke-width="1.0"/>
<line x1="99.3" y1="224.72" x2="102.8" y2="224.72" stroke="#1a1a1a" stroke-width="0.9"/>
<line x1="482.7" y1="224.72" x2="486.2" y2="224.72" stroke="#1a1a1a" stroke-width="1.0"/>
<line x1="99.3" y1="221.65" x2="102.8" y2="221.65" stroke="#1a1a1a" stroke-width="0.9"/>
<line x1="482.7" y1="221.65" x2="486.2" y2="221.65" stroke="#1a1a1a" stroke-width="1.0"/>
<line x1="99.3" y1="219.27" x2="102.8" y2="219.27" stroke="#1a1a1a" stroke-width="0.9"/>
<line x1="482.7" y1="219.27" x2="486.2" y2="219.27" stroke="#1a1a1a" stroke-width="1.0"/>
<line x1="99.3" y1="217.33" x2="102.8" y2="217.33" stroke="#1a1a1a" stroke-width="0.9"/>
<line x1="482.7" y1="217.33" x2="486.2" y2="217.33" stroke="#1a1a1a" stroke-width="1.0"/>
<line x1="99.3" y1="215.69" x2="102.8" y2="215.69" stroke="#1a1a1a" stroke-width="0.9"/>
<line x1="482.7" y1="215.69" x2="486.2" y2="215.69" stroke="#1a1a1a" stroke-width="1.0"/>
<line x1="99.3" y1="214.27" x2="102.8" y2="214.27" stroke="#1a1a1a" stroke-width="0.9"/>
<line x1="482.7" y1="214.27" x2="486.2" y2="214.27" stroke="#1a1a1a" stroke-width="1.0"/>
<line x1="99.3" y1="213.01" x2="102.8" y2="213.01" stroke="#1a1a1a" stroke-width="0.9"/>
<line x1="482.7" y1="213.01" x2="486.2" y2="213.01" stroke="#1a1a1a" stroke-width="1.0"/>
<line x1="97.3" y1="211.89" x2="102.8" y2="211.89" stroke="#1a1a1a" stroke-width="0.95"/>
<line x1="480.7" y1="211.89" x2="486.2" y2="211.89" stroke="#1a1a1a" stroke-width="1.15"/>
<line x1="99.3" y1="204.51" x2="102.8" y2="204.51" stroke="#1a1a1a" stroke-width="0.9"/>
<line x1="482.7" y1="204.51" x2="486.2" y2="204.51" stroke="#1a1a1a" stroke-width="1.0"/>
<line x1="99.3" y1="200.19" x2="102.8" y2="200.19" stroke="#1a1a1a" stroke-width="0.9"/>
<line x1="482.7" y1="200.19" x2="486.2" y2="200.19" stroke="#1a1a1a" stroke-width="1.0"/>
<line x1="99.3" y1="197.12" x2="102.8" y2="197.12" stroke="#1a1a1a" stroke-width="0.9"/>
<line x1="482.7" y1="197.12" x2="486.2" y2="197.12" stroke="#1a1a1a" stroke-width="1.0"/>
<line x1="99.3" y1="194.74" x2="102.8" y2="194.74" stroke="#1a1a1a" stroke-width="0.9"/>
<line x1="482.7" y1="194.74" x2="486.2" y2="194.74" stroke="#1a1a1a" stroke-width="1.0"/>
<line x1="99.3" y1="192.80" x2="102.8" y2="192.80" stroke="#1a1a1a" stroke-width="0.9"/>
<line x1="482.7" y1="192.80" x2="486.2" y2="192.80" stroke="#1a1a1a" stroke-width="1.0"/>
<line x1="99.3" y1="191.16" x2="102.8" y2="191.16" stroke="#1a1a1a" stroke-width="0.9"/>
<line x1="482.7" y1="191.16" x2="486.2" y2="191.16" stroke="#1a1a1a" stroke-width="1.0"/>
<line x1="99.3" y1="189.74" x2="102.8" y2="189.74" stroke="#1a1a1a" stroke-width="0.9"/>
<line x1="482.7" y1="189.74" x2="486.2" y2="189.74" stroke="#1a1a1a" stroke-width="1.0"/>
<line x1="99.3" y1="188.48" x2="102.8" y2="188.48" stroke="#1a1a1a" stroke-width="0.9"/>
<line x1="482.7" y1="188.48" x2="486.2" y2="188.48" stroke="#1a1a1a" stroke-width="1.0"/>
<line x1="97.3" y1="187.36" x2="102.8" y2="187.36" stroke="#1a1a1a" stroke-width="0.95"/>
<line x1="480.7" y1="187.36" x2="486.2" y2="187.36" stroke="#1a1a1a" stroke-width="1.15"/>
<line x1="99.3" y1="179.98" x2="102.8" y2="179.98" stroke="#1a1a1a" stroke-width="0.9"/>
<line x1="482.7" y1="179.98" x2="486.2" y2="179.98" stroke="#1a1a1a" stroke-width="1.0"/>
<line x1="99.3" y1="175.66" x2="102.8" y2="175.66" stroke="#1a1a1a" stroke-width="0.9"/>
<line x1="482.7" y1="175.66" x2="486.2" y2="175.66" stroke="#1a1a1a" stroke-width="1.0"/>
<line x1="99.3" y1="172.59" x2="102.8" y2="172.59" stroke="#1a1a1a" stroke-width="0.9"/>
<line x1="482.7" y1="172.59" x2="486.2" y2="172.59" stroke="#1a1a1a" stroke-width="1.0"/>
<line x1="99.3" y1="170.21" x2="102.8" y2="170.21" stroke="#1a1a1a" stroke-width="0.9"/>
<line x1="482.7" y1="170.21" x2="486.2" y2="170.21" stroke="#1a1a1a" stroke-width="1.0"/>
<line x1="99.3" y1="168.27" x2="102.8" y2="168.27" stroke="#1a1a1a" stroke-width="0.9"/>
<line x1="482.7" y1="168.27" x2="486.2" y2="168.27" stroke="#1a1a1a" stroke-width="1.0"/>
<line x1="99.3" y1="166.63" x2="102.8" y2="166.63" stroke="#1a1a1a" stroke-width="0.9"/>
<line x1="482.7" y1="166.63" x2="486.2" y2="166.63" stroke="#1a1a1a" stroke-width="1.0"/>
<line x1="99.3" y1="165.21" x2="102.8" y2="165.21" stroke="#1a1a1a" stroke-width="0.9"/>
<line x1="482.7" y1="165.21" x2="486.2" y2="165.21" stroke="#1a1a1a" stroke-width="1.0"/>
<line x1="99.3" y1="163.95" x2="102.8" y2="163.95" stroke="#1a1a1a" stroke-width="0.9"/>
<line x1="482.7" y1="163.95" x2="486.2" y2="163.95" stroke="#1a1a1a" stroke-width="1.0"/>
<line x1="97.3" y1="162.83" x2="102.8" y2="162.83" stroke="#1a1a1a" stroke-width="0.95"/>
<line x1="480.7" y1="162.83" x2="486.2" y2="162.83" stroke="#1a1a1a" stroke-width="1.15"/>
<line x1="99.3" y1="155.45" x2="102.8" y2="155.45" stroke="#1a1a1a" stroke-width="0.9"/>
<line x1="482.7" y1="155.45" x2="486.2" y2="155.45" stroke="#1a1a1a" stroke-width="1.0"/>
<line x1="99.3" y1="151.13" x2="102.8" y2="151.13" stroke="#1a1a1a" stroke-width="0.9"/>
<line x1="482.7" y1="151.13" x2="486.2" y2="151.13" stroke="#1a1a1a" stroke-width="1.0"/>
<line x1="99.3" y1="148.06" x2="102.8" y2="148.06" stroke="#1a1a1a" stroke-width="0.9"/>
<line x1="482.7" y1="148.06" x2="486.2" y2="148.06" stroke="#1a1a1a" stroke-width="1.0"/>
<line x1="99.3" y1="145.68" x2="102.8" y2="145.68" stroke="#1a1a1a" stroke-width="0.9"/>
<line x1="482.7" y1="145.68" x2="486.2" y2="145.68" stroke="#1a1a1a" stroke-width="1.0"/>
<line x1="99.3" y1="143.74" x2="102.8" y2="143.74" stroke="#1a1a1a" stroke-width="0.9"/>
<line x1="482.7" y1="143.74" x2="486.2" y2="143.74" stroke="#1a1a1a" stroke-width="1.0"/>
<line x1="99.3" y1="142.10" x2="102.8" y2="142.10" stroke="#1a1a1a" stroke-width="0.9"/>
<line x1="482.7" y1="142.10" x2="486.2" y2="142.10" stroke="#1a1a1a" stroke-width="1.0"/>
<line x1="99.3" y1="140.68" x2="102.8" y2="140.68" stroke="#1a1a1a" stroke-width="0.9"/>
<line x1="482.7" y1="140.68" x2="486.2" y2="140.68" stroke="#1a1a1a" stroke-width="1.0"/>
<line x1="99.3" y1="139.42" x2="102.8" y2="139.42" stroke="#1a1a1a" stroke-width="0.9"/>
<line x1="482.7" y1="139.42" x2="486.2" y2="139.42" stroke="#1a1a1a" stroke-width="1.0"/>
<line x1="97.3" y1="138.30" x2="102.8" y2="138.30" stroke="#1a1a1a" stroke-width="0.95"/>
<line x1="480.7" y1="138.30" x2="486.2" y2="138.30" stroke="#1a1a1a" stroke-width="1.15"/>
<line x1="99.3" y1="130.92" x2="102.8" y2="130.92" stroke="#1a1a1a" stroke-width="0.9"/>
<line x1="482.7" y1="130.92" x2="486.2" y2="130.92" stroke="#1a1a1a" stroke-width="1.0"/>
<line x1="102.80" y1="285.6" x2="102.80" y2="287.6" stroke="#000" stroke-width="1.5"/>
<line x1="102.80" y1="131.6" x2="102.80" y2="133.6" stroke="#000" stroke-width="1.5"/>
<line x1="145.40" y1="285.6" x2="145.40" y2="288.8" stroke="#000" stroke-width="1.5"/>
<line x1="145.40" y1="131.6" x2="145.40" y2="134.79999999999998" stroke="#000" stroke-width="1.5"/>
<line x1="188.00" y1="285.6" x2="188.00" y2="287.6" stroke="#000" stroke-width="1.5"/>
<line x1="188.00" y1="131.6" x2="188.00" y2="133.6" stroke="#000" stroke-width="1.5"/>
<line x1="230.60" y1="285.6" x2="230.60" y2="288.8" stroke="#000" stroke-width="1.5"/>
<line x1="230.60" y1="131.6" x2="230.60" y2="134.79999999999998" stroke="#000" stroke-width="1.5"/>
<line x1="273.20" y1="285.6" x2="273.20" y2="287.6" stroke="#000" stroke-width="1.5"/>
<line x1="273.20" y1="131.6" x2="273.20" y2="133.6" stroke="#000" stroke-width="1.5"/>
<line x1="315.80" y1="285.6" x2="315.80" y2="288.8" stroke="#000" stroke-width="1.5"/>
<line x1="315.80" y1="131.6" x2="315.80" y2="134.79999999999998" stroke="#000" stroke-width="1.5"/>
<line x1="358.40" y1="285.6" x2="358.40" y2="287.6" stroke="#000" stroke-width="1.5"/>
<line x1="358.40" y1="131.6" x2="358.40" y2="133.6" stroke="#000" stroke-width="1.5"/>
<line x1="401.00" y1="285.6" x2="401.00" y2="288.8" stroke="#000" stroke-width="1.5"/>
<line x1="401.00" y1="131.6" x2="401.00" y2="134.79999999999998" stroke="#000" stroke-width="1.5"/>
<line x1="443.60" y1="285.6" x2="443.60" y2="287.6" stroke="#000" stroke-width="1.5"/>
<line x1="443.60" y1="131.6" x2="443.60" y2="133.6" stroke="#000" stroke-width="1.5"/>
<line x1="486.20" y1="285.6" x2="486.20" y2="288.8" stroke="#000" stroke-width="1.5"/>
<line x1="486.20" y1="131.6" x2="486.20" y2="134.79999999999998" stroke="#000" stroke-width="1.5"/>
<g transform="translate(95.00,290.88) scale(1.7,1)"><text x="0" y="0" text-anchor="end" fill="#111" stroke="#111" stroke-width="0.2"><tspan font-size="12.8">10</tspan><tspan font-size="8.2" dy="-6.4">-14</tspan></text><rect x="-25.46" y="-1.21" width="2.53" height="1.61" fill="#fff"/><rect x="-21.68" y="-1.21" width="2.46" height="1.61" fill="#fff"/></g>
<g transform="translate(95.00,266.35) scale(1.7,1)"><text x="0" y="0" text-anchor="end" fill="#111" stroke="#111" stroke-width="0.2"><tspan font-size="12.8">10</tspan><tspan font-size="8.2" dy="-6.4">-13</tspan></text><rect x="-25.46" y="-1.21" width="2.53" height="1.61" fill="#fff"/><rect x="-21.68" y="-1.21" width="2.46" height="1.61" fill="#fff"/></g>
<g transform="translate(95.00,241.82) scale(1.7,1)"><text x="0" y="0" text-anchor="end" fill="#111" stroke="#111" stroke-width="0.2"><tspan font-size="12.8">10</tspan><tspan font-size="8.2" dy="-6.4">-12</tspan></text><rect x="-25.46" y="-1.21" width="2.53" height="1.61" fill="#fff"/><rect x="-21.68" y="-1.21" width="2.46" height="1.61" fill="#fff"/></g>
<g transform="translate(95.00,217.29) scale(1.7,1)"><text x="0" y="0" text-anchor="end" fill="#111" stroke="#111" stroke-width="0.2"><tspan font-size="12.8">10</tspan><tspan font-size="8.2" dy="-6.4">-11</tspan></text><rect x="-25.46" y="-1.21" width="2.53" height="1.61" fill="#fff"/><rect x="-21.68" y="-1.21" width="2.46" height="1.61" fill="#fff"/></g>
<g transform="translate(95.00,192.76) scale(1.7,1)"><text x="0" y="0" text-anchor="end" fill="#111" stroke="#111" stroke-width="0.2"><tspan font-size="12.8">10</tspan><tspan font-size="8.2" dy="-6.4">-10</tspan></text><rect x="-25.46" y="-1.21" width="2.53" height="1.61" fill="#fff"/><rect x="-21.68" y="-1.21" width="2.46" height="1.61" fill="#fff"/></g>
<g transform="translate(95.00,168.23) scale(1.7,1)"><text x="0" y="0" text-anchor="end" fill="#111" stroke="#111" stroke-width="0.2"><tspan font-size="12.8">10</tspan><tspan font-size="8.2" dy="-6.4">-9</tspan></text><rect x="-20.90" y="-1.21" width="2.53" height="1.61" fill="#fff"/><rect x="-17.12" y="-1.21" width="2.46" height="1.61" fill="#fff"/></g>
<g transform="translate(95.00,143.70) scale(1.7,1)"><text x="0" y="0" text-anchor="end" fill="#111" stroke="#111" stroke-width="0.2"><tspan font-size="12.8">10</tspan><tspan font-size="8.2" dy="-6.4">-8</tspan></text><rect x="-20.90" y="-1.21" width="2.53" height="1.61" fill="#fff"/><rect x="-17.12" y="-1.21" width="2.46" height="1.61" fill="#fff"/></g>
<g transform="translate(145.40,299.80) scale(1.7,1)"><text x="0" y="0" text-anchor="middle" fill="#111" stroke="#111" stroke-width="0.3"><tspan font-size="12.4">4</tspan></text></g>
<g transform="translate(230.60,299.80) scale(1.7,1)"><text x="0" y="0" text-anchor="middle" fill="#111" stroke="#111" stroke-width="0.3"><tspan font-size="12.4">8</tspan></text></g>
<g transform="translate(315.80,299.80) scale(1.7,1)"><text x="0" y="0" text-anchor="middle" fill="#111" stroke="#111" stroke-width="0.3"><tspan font-size="12.4">12</tspan></text><rect x="-6.29" y="-1.18" width="2.45" height="1.58" fill="#fff"/><rect x="-2.62" y="-1.18" width="2.39" height="1.58" fill="#fff"/></g>
<g transform="translate(401.00,299.80) scale(1.7,1)"><text x="0" y="0" text-anchor="middle" fill="#111" stroke="#111" stroke-width="0.3"><tspan font-size="12.4">16</tspan></text><rect x="-6.29" y="-1.18" width="2.45" height="1.58" fill="#fff"/><rect x="-2.62" y="-1.18" width="2.39" height="1.58" fill="#fff"/></g>
<g transform="translate(486.20,299.80) scale(1.7,1)"><text x="0" y="0" text-anchor="middle" fill="#111" stroke="#111" stroke-width="0.3"><tspan font-size="12.4">20</tspan></text></g>
<g transform="translate(238.45,318.80) scale(1.72,1)"><text x="0" y="0" text-anchor="start" fill="#111" stroke="#111" stroke-width="0.35"><tspan font-size="17.6">F</tspan><tspan font-size="10.6" dy="6.6">M</tspan></text></g>
<g transform="translate(272.10,318.60) scale(1.892,1)"><text x="0" y="0" text-anchor="start" fill="#111" stroke="#111" stroke-width="0.32"><tspan font-size="16">(V/μm)</tspan></text></g>
<g transform="translate(24.5,220.6) scale(1.27,1) rotate(-90)"><text x="0" y="0" fill="#111" stroke="#111" stroke-width="0.3" font-size="18.6">α</text></g>
<g transform="translate(35.6,210.9) scale(1.7,1) rotate(-90)"><text x="0" y="0" fill="#111" stroke="#111" stroke-width="0.25" font-size="11.4">f</text></g>
<rect x="370.5" y="178.6" width="133.7" height="102.6" fill="#fff" stroke="#555" stroke-width="0.9"/>
<g transform="translate(399.40,187.50) scale(1.4,1)"><polygon points="-2.95,2.04 2.95,2.04 0.00,-2.06" fill="none" stroke="#808000" stroke-width="1.25" stroke-linejoin="miter"/></g>
<g transform="translate(418.60,191.10) scale(1.72,1)"><text x="0" y="0" text-anchor="start" fill="#111" stroke="#111" stroke-width="0.2"><tspan font-size="9.6">ρ(γ</tspan><tspan font-size="5.0" dy="3.8">1</tspan><tspan font-size="9.6" dy="-3.8">)=10</tspan><tspan font-size="6.4" dy="-4.2">-6</tspan></text><rect x="25.51" y="-0.97" width="1.90" height="1.37" fill="#fff"/><rect x="28.35" y="-0.97" width="1.85" height="1.37" fill="#fff"/></g>
<g transform="translate(399.40,204.50) scale(1.4,1)"><polygon points="-2.32,-1.88 2.32,-1.88 2.32,1.88 -2.32,1.88" fill="none" stroke="#ff0000" stroke-width="1.65" stroke-linejoin="miter"/></g>
<g transform="translate(418.60,208.10) scale(1.72,1)"><text x="0" y="0" text-anchor="start" fill="#111" stroke="#111" stroke-width="0.2"><tspan font-size="9.6">ρ(γ</tspan><tspan font-size="5.0" dy="3.8">1</tspan><tspan font-size="9.6" dy="-3.8">)=10</tspan><tspan font-size="6.4" dy="-4.2">-5</tspan></text><rect x="25.51" y="-0.97" width="1.90" height="1.37" fill="#fff"/><rect x="28.35" y="-0.97" width="1.85" height="1.37" fill="#fff"/></g>
<g transform="translate(399.40,221.30) scale(1.4,1)"><ellipse cx="0" cy="0" rx="2.50" ry="1.88" fill="none" stroke="#00ff00" stroke-width="1.6"/></g>
<g transform="translate(418.60,224.90) scale(1.72,1)"><text x="0" y="0" text-anchor="start" fill="#111" stroke="#111" stroke-width="0.2"><tspan font-size="9.6">ρ(γ</tspan><tspan font-size="5.0" dy="3.8">1</tspan><tspan font-size="9.6" dy="-3.8">)=10</tspan><tspan font-size="6.4" dy="-4.2">-4</tspan></text><rect x="25.51" y="-0.97" width="1.90" height="1.37" fill="#fff"/><rect x="28.35" y="-0.97" width="1.85" height="1.37" fill="#fff"/></g>
<g transform="translate(399.40,237.60) scale(1.4,1)"><polygon points="0.00,-1.90 0.76,-0.52 2.57,-0.35 1.23,0.68 1.59,2.17 0.00,1.43 -1.59,2.17 -1.23,0.68 -2.57,-0.35 -0.76,-0.52" fill="none" stroke="#0000ff" stroke-width="1.15" stroke-linejoin="miter" stroke-miterlimit="3"/></g>
<g transform="translate(418.60,241.20) scale(1.72,1)"><text x="0" y="0" text-anchor="start" fill="#111" stroke="#111" stroke-width="0.2"><tspan font-size="9.6">ρ(γ</tspan><tspan font-size="5.0" dy="3.8">1</tspan><tspan font-size="9.6" dy="-3.8">)=10</tspan><tspan font-size="6.4" dy="-4.2">-3</tspan></text><rect x="25.51" y="-0.97" width="1.90" height="1.37" fill="#fff"/><rect x="28.35" y="-0.97" width="1.85" height="1.37" fill="#fff"/></g>
<g transform="translate(399.40,254.00) scale(1.4,1)"><polygon points="2.62,0.00 1.31,2.09 -1.31,2.09 -2.62,0.00 -1.31,-2.09 1.31,-2.09" fill="none" stroke="#ff8000" stroke-width="1.6" stroke-linejoin="miter"/></g>
<g transform="translate(418.60,257.60) scale(1.72,1)"><text x="0" y="0" text-anchor="start" fill="#111" stroke="#111" stroke-width="0.2"><tspan font-size="9.6">ρ(γ</tspan><tspan font-size="5.0" dy="3.8">1</tspan><tspan font-size="9.6" dy="-3.8">)=10</tspan><tspan font-size="6.4" dy="-4.2">-2</tspan></text><rect x="25.51" y="-0.97" width="1.90" height="1.37" fill="#fff"/><rect x="28.35" y="-0.97" width="1.85" height="1.37" fill="#fff"/></g>
<g transform="translate(399.40,270.50) scale(1.4,1)"><polygon points="1.75,-2.20 1.75,2.20 -2.85,0.00" fill="none" stroke="#00ffff" stroke-width="1.35" stroke-linejoin="miter"/></g>
<g transform="translate(418.60,274.10) scale(1.72,1)"><text x="0" y="0" text-anchor="start" fill="#111" stroke="#111" stroke-width="0.2"><tspan font-size="9.6">ρ(γ</tspan><tspan font-size="5.0" dy="3.8">1</tspan><tspan font-size="9.6" dy="-3.8">)=10</tspan><tspan font-size="6.4" dy="-4.2">-1</tspan></text><rect x="25.51" y="-0.97" width="1.90" height="1.37" fill="#fff"/><rect x="28.35" y="-0.97" width="1.85" height="1.37" fill="#fff"/></g>
</svg>
</body></html>
